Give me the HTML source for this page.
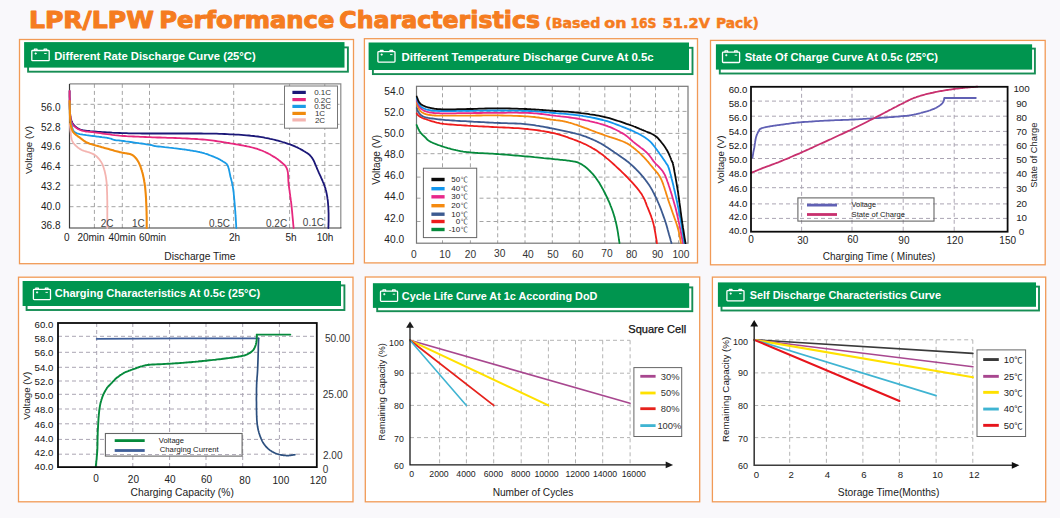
<!DOCTYPE html>
<html lang="en"><head><meta charset="utf-8"><title>LPR/LPW Performance Characteristics</title>
<style>html,body{margin:0;padding:0;background:#f9f8fb;}body{width:1060px;height:518px;overflow:hidden;}svg{display:block;}text{font-family:"Liberation Sans", "Noto Sans CJK SC", sans-serif;}</style>
</head><body>
<svg width="1060" height="518" viewBox="0 0 1060 518">
<rect x="0" y="0" width="1060" height="518" fill="#f9f8fb"/>
<g font-family='&quot;DejaVu Sans&quot;, &quot;Liberation Sans&quot;, sans-serif' font-weight="bold" fill="#f57c20">
<text x="28.9" y="27.9" font-size="23.2" textLength="125.0" lengthAdjust="spacingAndGlyphs" stroke="#f57c20" stroke-width="1.0" stroke-linejoin="round" style="font-family:'DejaVu Sans', 'Liberation Sans', sans-serif">LPR/LPW</text>
<text x="159.2" y="27.9" font-size="23.2" textLength="175.3" lengthAdjust="spacingAndGlyphs" stroke="#f57c20" stroke-width="1.0" stroke-linejoin="round" style="font-family:'DejaVu Sans', 'Liberation Sans', sans-serif">Performance</text>
<text x="339.3" y="27.9" font-size="23.2" textLength="200.8" lengthAdjust="spacingAndGlyphs" stroke="#f57c20" stroke-width="1.0" stroke-linejoin="round" style="font-family:'DejaVu Sans', 'Liberation Sans', sans-serif">Characteristics</text>
<text x="545.2" y="28.4" font-size="14" textLength="55.2" lengthAdjust="spacingAndGlyphs" stroke="#f57c20" stroke-width="0.5" stroke-linejoin="round" style="font-family:'DejaVu Sans', 'Liberation Sans', sans-serif">(Based</text>
<text x="604.3" y="28.4" font-size="14" textLength="22.2" lengthAdjust="spacingAndGlyphs" stroke="#f57c20" stroke-width="0.5" stroke-linejoin="round" style="font-family:'DejaVu Sans', 'Liberation Sans', sans-serif">on</text>
<text x="630.4" y="28.4" font-size="14" textLength="26.1" lengthAdjust="spacingAndGlyphs" stroke="#f57c20" stroke-width="0.5" stroke-linejoin="round" style="font-family:'DejaVu Sans', 'Liberation Sans', sans-serif">16S</text>
<text x="662.6" y="28.4" font-size="14" textLength="47.4" lengthAdjust="spacingAndGlyphs" stroke="#f57c20" stroke-width="0.5" stroke-linejoin="round" style="font-family:'DejaVu Sans', 'Liberation Sans', sans-serif">51.2V</text>
<text x="716.0" y="28.4" font-size="14" textLength="42.8" lengthAdjust="spacingAndGlyphs" stroke="#f57c20" stroke-width="0.5" stroke-linejoin="round" style="font-family:'DejaVu Sans', 'Liberation Sans', sans-serif">Pack)</text>
</g>
<rect x="19.5" y="39.5" width="334.0" height="224.2" fill="#ffffff" stroke="#f19a56" stroke-width="1.3" />
<rect x="364.4" y="38.7" width="333.1" height="224.2" fill="#ffffff" stroke="#f19a56" stroke-width="1.3" />
<rect x="710.5" y="40.4" width="334.7" height="224.4" fill="#ffffff" stroke="#f19a56" stroke-width="1.3" />
<rect x="18.5" y="277.2" width="334.5" height="224.6" fill="#ffffff" stroke="#f19a56" stroke-width="1.3" />
<rect x="365.3" y="277.0" width="334.4" height="224.8" fill="#ffffff" stroke="#f19a56" stroke-width="1.3" />
<rect x="712.4" y="277.1" width="333.3" height="224.7" fill="#ffffff" stroke="#f19a56" stroke-width="1.3" />
<rect x="28.1" y="47.4" width="319.8" height="24.3" fill="#ffffff" stroke="#168e54" stroke-width="1.9" />
<rect x="24.1" y="42.1" width="320.4" height="25.5" fill="#00954f" stroke="none" stroke-width="1" />
<g fill="none" stroke="#ffffff" stroke-width="1.3" stroke-linejoin="round">
<rect x="31.8" y="50.5" width="17.4" height="10.2" rx="0.8"/>
<path d="M34.4 50.5 v-1.3 h2.6 v1.3"/>
<path d="M44.1 50.5 v-1.3 h2.6 v1.3"/>
</g>
<g stroke="#ffffff" stroke-width="0.9">
<path d="M34.6 53.5 h2.2 M35.7 52.4 v2.2"/>
<path d="M44.2 53.5 h2.4"/>
</g>
<text x="54.2" y="59.6" font-size="10.4" font-weight="bold" fill="#ffffff" textLength="201.5" lengthAdjust="spacingAndGlyphs">Different Rate Discharge Curve (25°C)</text>
<rect x="372.9" y="47.8" width="319.6" height="26.3" fill="#ffffff" stroke="#168e54" stroke-width="1.9" />
<rect x="368.6" y="42.5" width="320.4" height="27.5" fill="#00954f" stroke="none" stroke-width="1" />
<g fill="none" stroke="#ffffff" stroke-width="1.3" stroke-linejoin="round">
<rect x="377.9" y="51.6" width="17.1" height="10.5" rx="0.8"/>
<path d="M380.4 51.6 v-1.3 h2.6 v1.3"/>
<path d="M390.0 51.6 v-1.3 h2.6 v1.3"/>
</g>
<g stroke="#ffffff" stroke-width="0.9">
<path d="M380.6 54.6 h2.2 M381.7 53.5 v2.2"/>
<path d="M390.1 54.6 h2.4"/>
</g>
<text x="401.5" y="60.6" font-size="10.4" font-weight="bold" fill="#ffffff" textLength="252.2" lengthAdjust="spacingAndGlyphs">Different Temperature Discharge Curve At 0.5c</text>
<rect x="719.8" y="48.6" width="315.1" height="24.9" fill="#ffffff" stroke="#168e54" stroke-width="1.9" />
<rect x="715.9" y="44.3" width="316.2" height="25.3" fill="#00954f" stroke="none" stroke-width="1" />
<g fill="none" stroke="#ffffff" stroke-width="1.3" stroke-linejoin="round">
<rect x="722.5" y="52.2" width="17.1" height="10.3" rx="0.8"/>
<path d="M725.0 52.2 v-1.3 h2.6 v1.3"/>
<path d="M734.6 52.2 v-1.3 h2.6 v1.3"/>
</g>
<g stroke="#ffffff" stroke-width="0.9">
<path d="M725.2 55.2 h2.2 M726.3 54.1 v2.2"/>
<path d="M734.7 55.2 h2.4"/>
</g>
<text x="744.7" y="61.0" font-size="10.4" font-weight="bold" fill="#ffffff" textLength="193.3" lengthAdjust="spacingAndGlyphs">State Of Charge Curve At 0.5c (25°C)</text>
<rect x="26.6" y="285.4" width="317.8" height="24.6" fill="#ffffff" stroke="#168e54" stroke-width="1.9" />
<rect x="22.6" y="281.0" width="318.4" height="25.0" fill="#00954f" stroke="none" stroke-width="1" />
<g fill="none" stroke="#ffffff" stroke-width="1.3" stroke-linejoin="round">
<rect x="33.4" y="289.4" width="17.1" height="10.2" rx="0.8"/>
<path d="M35.8 289.4 v-1.3 h2.6 v1.3"/>
<path d="M45.4 289.4 v-1.3 h2.6 v1.3"/>
</g>
<g stroke="#ffffff" stroke-width="0.9">
<path d="M36.0 292.4 h2.2 M37.1 291.3 v2.2"/>
<path d="M45.5 292.4 h2.4"/>
</g>
<text x="54.7" y="297.4" font-size="10.4" font-weight="bold" fill="#ffffff" textLength="205.5" lengthAdjust="spacingAndGlyphs">Charging Characteristics At 0.5c (25°C)</text>
<rect x="377.2" y="287.4" width="315.1" height="23.8" fill="#ffffff" stroke="#168e54" stroke-width="1.9" />
<rect x="372.9" y="283.2" width="316.3" height="24.7" fill="#00954f" stroke="none" stroke-width="1" />
<g fill="none" stroke="#ffffff" stroke-width="1.3" stroke-linejoin="round">
<rect x="380.5" y="291.2" width="17.1" height="10.1" rx="0.8"/>
<path d="M383.0 291.2 v-1.3 h2.6 v1.3"/>
<path d="M392.6 291.2 v-1.3 h2.6 v1.3"/>
</g>
<g stroke="#ffffff" stroke-width="0.9">
<path d="M383.2 294.2 h2.2 M384.3 293.1 v2.2"/>
<path d="M392.7 294.2 h2.4"/>
</g>
<text x="401.8" y="299.8" font-size="10.4" font-weight="bold" fill="#ffffff" textLength="195.6" lengthAdjust="spacingAndGlyphs">Cycle Life Curve At 1c According DoD</text>
<rect x="721.5" y="286.6" width="317.5" height="23.9" fill="#ffffff" stroke="#168e54" stroke-width="1.9" />
<rect x="717.9" y="282.4" width="318.1" height="24.4" fill="#00954f" stroke="none" stroke-width="1" />
<g fill="none" stroke="#ffffff" stroke-width="1.3" stroke-linejoin="round">
<rect x="726.9" y="290.6" width="17.1" height="10.3" rx="0.8"/>
<path d="M729.4 290.6 v-1.3 h2.6 v1.3"/>
<path d="M739.0 290.6 v-1.3 h2.6 v1.3"/>
</g>
<g stroke="#ffffff" stroke-width="0.9">
<path d="M729.6 293.6 h2.2 M730.7 292.5 v2.2"/>
<path d="M739.1 293.6 h2.4"/>
</g>
<text x="749.7" y="298.8" font-size="10.4" font-weight="bold" fill="#ffffff" textLength="191.3" lengthAdjust="spacingAndGlyphs">Self Discharge Characteristics Curve</text>
<line x1="94.4" y1="83.9" x2="94.4" y2="228.0" stroke="#a4a4a4" stroke-width="1" stroke-dasharray="4 3"/>
<line x1="122.3" y1="83.9" x2="122.3" y2="228.0" stroke="#a4a4a4" stroke-width="1" stroke-dasharray="4 3"/>
<line x1="149.5" y1="83.9" x2="149.5" y2="228.0" stroke="#a4a4a4" stroke-width="1" stroke-dasharray="4 3"/>
<line x1="233.7" y1="83.9" x2="233.7" y2="228.0" stroke="#a4a4a4" stroke-width="1" stroke-dasharray="4 3"/>
<line x1="289.6" y1="83.9" x2="289.6" y2="228.0" stroke="#a4a4a4" stroke-width="1" stroke-dasharray="4 3"/>
<line x1="324.8" y1="83.9" x2="324.8" y2="228.0" stroke="#a4a4a4" stroke-width="1" stroke-dasharray="4 3"/>
<line x1="69.5" y1="104.3" x2="340.8" y2="104.3" stroke="#a4a4a4" stroke-width="1" stroke-dasharray="4 3"/>
<line x1="69.5" y1="124.3" x2="340.8" y2="124.3" stroke="#a4a4a4" stroke-width="1" stroke-dasharray="4 3"/>
<line x1="69.5" y1="143.6" x2="340.8" y2="143.6" stroke="#a4a4a4" stroke-width="1" stroke-dasharray="4 3"/>
<line x1="69.5" y1="165.4" x2="340.8" y2="165.4" stroke="#a4a4a4" stroke-width="1" stroke-dasharray="4 3"/>
<line x1="69.5" y1="185.2" x2="340.8" y2="185.2" stroke="#a4a4a4" stroke-width="1" stroke-dasharray="4 3"/>
<line x1="69.5" y1="206.7" x2="340.8" y2="206.7" stroke="#a4a4a4" stroke-width="1" stroke-dasharray="4 3"/>
<path d="M69.5 83.9 H340.8 V228.0" fill="none" stroke="#8a8a8a" stroke-width="1.2"/>
<path d="M69.5 83.9 V228.0 H341.4" fill="none" stroke="#3a3a3a" stroke-width="1.2"/>
<g clip-path="url(#c1)">
<clipPath id="c1"><rect x="67.5" y="83.9" width="275.3" height="145.1"/></clipPath>
<path d="M69.6 91.0 L69.6 92.0 L69.6 93.4 L69.6 95.0 L69.6 96.9 L69.7 98.8 L69.7 100.9 L69.7 103.0 L69.7 105.0 L69.8 107.0 L69.8 108.9 L69.9 110.6 L70.0 112.0 L70.1 113.2 L70.2 114.4 L70.3 115.4 L70.5 116.3 L70.6 117.2 L70.8 118.0 L70.9 118.7 L71.1 119.4 L71.3 120.1 L71.5 120.8 L71.8 121.4 L72.0 122.0 L72.3 122.6 L72.5 123.1 L72.8 123.6 L73.1 124.1 L73.4 124.5 L73.8 124.9 L74.1 125.3 L74.4 125.7 L74.8 126.0 L75.2 126.3 L75.6 126.7 L76.0 127.0 L76.4 127.3 L76.8 127.6 L77.2 127.9 L77.6 128.2 L78.0 128.5 L78.5 128.7 L78.9 129.0 L79.5 129.2 L80.0 129.4 L80.6 129.6 L81.3 129.8 L82.0 130.0 L82.8 130.2 L83.5 130.3 L84.3 130.5 L85.1 130.6 L85.9 130.7 L86.8 130.8 L87.8 130.9 L88.9 131.0 L90.1 131.2 L91.4 131.3 L92.8 131.4 L94.4 131.5 L96.2 131.6 L98.1 131.8 L100.2 131.9 L102.5 132.1 L104.8 132.2 L107.2 132.4 L109.7 132.5 L112.2 132.7 L114.7 132.8 L117.2 132.9 L119.6 133.0 L122.0 133.1 L124.3 133.2 L126.5 133.2 L128.7 133.3 L130.9 133.3 L133.0 133.4 L135.2 133.4 L137.5 133.4 L139.8 133.4 L142.1 133.5 L144.6 133.5 L147.2 133.5 L150.0 133.5 L152.9 133.5 L156.1 133.5 L159.3 133.5 L162.7 133.5 L166.2 133.5 L169.8 133.5 L173.3 133.5 L176.8 133.5 L180.3 133.5 L183.7 133.5 L186.9 133.5 L190.0 133.5 L192.9 133.5 L195.8 133.5 L198.5 133.5 L201.2 133.5 L203.8 133.6 L206.4 133.6 L209.0 133.6 L211.5 133.6 L214.0 133.7 L216.6 133.7 L219.2 133.8 L221.8 133.9 L224.5 134.0 L227.2 134.1 L230.0 134.3 L232.8 134.4 L235.6 134.6 L238.4 134.7 L241.2 134.9 L243.9 135.1 L246.5 135.3 L249.0 135.5 L251.4 135.8 L253.7 136.0 L255.9 136.3 L257.9 136.5 L259.9 136.8 L261.7 137.1 L263.5 137.4 L265.2 137.8 L266.9 138.1 L268.5 138.4 L270.1 138.8 L271.7 139.1 L273.3 139.5 L274.9 139.9 L276.5 140.3 L278.0 140.7 L279.5 141.1 L281.0 141.5 L282.5 142.0 L283.9 142.4 L285.3 142.8 L286.7 143.3 L288.1 143.8 L289.4 144.2 L290.6 144.7 L291.9 145.2 L293.1 145.7 L294.3 146.2 L295.5 146.7 L296.6 147.2 L297.8 147.7 L298.8 148.3 L299.9 148.8 L300.9 149.4 L301.9 149.9 L302.8 150.4 L303.7 151.0 L304.6 151.5 L305.4 152.0 L306.2 152.5 L306.9 152.9 L307.5 153.4 L308.2 153.8 L308.8 154.2 L309.3 154.7 L309.9 155.2 L310.4 155.8 L311.0 156.4 L311.5 157.1 L312.1 157.9 L312.7 158.8 L313.2 159.8 L313.8 160.8 L314.3 161.9 L314.8 163.1 L315.3 164.3 L315.8 165.5 L316.3 166.7 L316.8 168.0 L317.4 169.3 L317.9 170.5 L318.4 171.7 L318.9 172.9 L319.5 174.1 L320.1 175.4 L320.7 176.7 L321.2 177.9 L321.8 179.2 L322.4 180.5 L322.9 181.8 L323.5 183.0 L323.9 184.2 L324.4 185.4 L324.8 186.6 L325.2 187.7 L325.5 188.8 L325.8 189.9 L326.1 190.9 L326.3 191.9 L326.5 192.9 L326.7 194.0 L326.9 195.0 L327.1 196.0 L327.3 197.1 L327.4 198.2 L327.6 199.3 L327.8 200.5 L327.9 201.7 L328.0 202.9 L328.1 204.1 L328.2 205.4 L328.3 206.7 L328.4 208.0 L328.4 209.2 L328.5 210.5 L328.5 211.8 L328.6 213.0 L328.6 214.2 L328.6 215.4 L328.6 216.7 L328.6 218.1 L328.6 219.4 L328.6 220.7 L328.6 222.0 L328.5 223.3 L328.5 224.5 L328.5 225.5 L328.4 226.5 L328.4 227.3 L328.4 228.0" fill="none" stroke="#1c1878" stroke-width="1.8" stroke-linejoin="round" stroke-linecap="round" />
<path d="M69.6 91.0 L69.6 91.9 L69.6 93.2 L69.6 94.6 L69.6 96.3 L69.7 98.0 L69.7 99.9 L69.7 101.8 L69.7 103.6 L69.8 105.4 L69.8 107.1 L69.8 108.7 L69.9 110.0 L70.0 111.2 L70.0 112.2 L70.1 113.2 L70.1 114.1 L70.2 115.0 L70.3 115.8 L70.4 116.6 L70.5 117.3 L70.6 118.0 L70.7 118.7 L70.8 119.3 L71.0 120.0 L71.2 120.6 L71.3 121.2 L71.5 121.8 L71.7 122.3 L71.9 122.9 L72.1 123.3 L72.3 123.8 L72.6 124.3 L72.9 124.7 L73.2 125.1 L73.6 125.6 L74.0 126.0 L74.5 126.4 L75.0 126.9 L75.5 127.3 L76.1 127.7 L76.8 128.2 L77.4 128.6 L78.1 129.0 L78.8 129.3 L79.6 129.7 L80.4 130.0 L81.2 130.3 L82.0 130.6 L82.8 130.8 L83.6 131.0 L84.4 131.2 L85.2 131.3 L86.1 131.5 L87.0 131.6 L87.9 131.7 L89.0 131.8 L90.1 131.9 L91.4 132.0 L92.8 132.2 L94.4 132.4 L96.2 132.6 L98.1 132.9 L100.2 133.2 L102.5 133.5 L104.8 133.8 L107.2 134.1 L109.7 134.4 L112.2 134.8 L114.7 135.1 L117.2 135.3 L119.6 135.6 L122.0 135.8 L124.3 136.0 L126.6 136.2 L128.9 136.3 L131.2 136.4 L133.5 136.5 L135.8 136.7 L138.2 136.7 L140.5 136.8 L142.8 136.9 L145.2 137.0 L147.6 137.1 L150.0 137.2 L152.4 137.3 L154.9 137.4 L157.4 137.5 L160.0 137.5 L162.5 137.6 L165.1 137.7 L167.6 137.8 L170.1 137.8 L172.7 137.9 L175.2 138.0 L177.6 138.1 L180.0 138.2 L182.4 138.3 L184.7 138.4 L187.0 138.5 L189.3 138.6 L191.5 138.8 L193.8 138.9 L196.0 139.0 L198.2 139.2 L200.4 139.3 L202.6 139.5 L204.8 139.7 L207.0 139.9 L209.2 140.1 L211.4 140.4 L213.6 140.7 L215.8 141.0 L217.9 141.3 L220.1 141.6 L222.3 142.0 L224.4 142.3 L226.5 142.7 L228.5 143.0 L230.5 143.4 L232.5 143.7 L234.4 144.0 L236.4 144.4 L238.2 144.7 L240.1 145.0 L242.0 145.3 L243.8 145.7 L245.5 146.0 L247.3 146.4 L248.9 146.7 L250.6 147.1 L252.2 147.5 L253.7 147.9 L255.2 148.3 L256.6 148.7 L257.9 149.2 L259.2 149.6 L260.5 150.1 L261.7 150.5 L262.9 151.0 L264.0 151.5 L265.2 152.0 L266.3 152.6 L267.5 153.1 L268.6 153.7 L269.8 154.3 L270.9 155.0 L272.1 155.7 L273.2 156.4 L274.4 157.1 L275.5 157.8 L276.6 158.6 L277.7 159.3 L278.7 160.1 L279.6 160.8 L280.5 161.5 L281.3 162.2 L282.0 162.8 L282.7 163.4 L283.4 164.0 L283.9 164.5 L284.5 165.0 L285.0 165.5 L285.4 166.0 L285.8 166.6 L286.2 167.3 L286.6 168.0 L286.9 168.7 L287.2 169.6 L287.5 170.6 L287.7 171.6 L287.9 172.6 L288.0 173.7 L288.1 174.9 L288.1 176.1 L288.2 177.4 L288.3 178.7 L288.3 180.1 L288.4 181.5 L288.5 182.9 L288.7 184.4 L288.9 185.9 L289.1 187.6 L289.3 189.2 L289.6 191.0 L289.8 192.8 L290.1 194.6 L290.3 196.4 L290.6 198.3 L290.8 200.2 L291.1 202.0 L291.3 203.9 L291.5 205.7 L291.7 207.6 L291.9 209.6 L292.1 211.7 L292.3 213.9 L292.5 216.0 L292.7 218.2 L292.9 220.2 L293.1 222.2 L293.2 224.0 L293.4 225.6 L293.5 226.9 L293.6 228.0" fill="none" stroke="#e6287e" stroke-width="1.8" stroke-linejoin="round" stroke-linecap="round" />
<path d="M69.7 103.0 L69.7 103.6 L69.7 104.5 L69.7 105.4 L69.7 106.5 L69.7 107.7 L69.8 108.9 L69.8 110.2 L69.8 111.5 L69.8 112.7 L69.9 113.9 L69.9 115.0 L70.0 116.0 L70.1 116.9 L70.1 117.7 L70.2 118.6 L70.3 119.3 L70.4 120.1 L70.5 120.8 L70.6 121.5 L70.7 122.2 L70.9 122.9 L71.1 123.6 L71.3 124.3 L71.5 125.0 L71.7 125.7 L71.9 126.4 L72.1 127.2 L72.3 127.9 L72.5 128.6 L72.7 129.3 L73.0 130.0 L73.4 130.6 L73.8 131.3 L74.4 131.9 L75.1 132.4 L76.0 132.9 L77.1 133.3 L78.3 133.7 L79.7 134.1 L81.3 134.4 L82.9 134.7 L84.6 134.9 L86.4 135.2 L88.1 135.4 L89.8 135.6 L91.5 135.8 L93.0 136.0 L94.4 136.2 L95.7 136.4 L97.0 136.6 L98.3 136.7 L99.5 136.9 L100.7 137.0 L101.9 137.2 L103.0 137.3 L104.1 137.4 L105.2 137.6 L106.2 137.7 L107.1 137.8 L108.0 138.0 L108.8 138.2 L109.5 138.3 L110.2 138.5 L110.8 138.7 L111.4 138.9 L111.9 139.1 L112.4 139.3 L112.9 139.5 L113.4 139.7 L113.9 139.8 L114.4 140.0 L115.0 140.1 L115.5 140.2 L115.9 140.3 L116.3 140.3 L116.6 140.3 L116.9 140.3 L117.2 140.3 L117.6 140.3 L118.1 140.4 L118.8 140.4 L119.6 140.5 L120.7 140.6 L122.0 140.8 L123.7 141.0 L125.7 141.3 L128.1 141.6 L130.6 142.0 L133.3 142.4 L136.1 142.8 L138.9 143.2 L141.6 143.5 L144.1 143.9 L146.4 144.3 L148.4 144.6 L150.0 144.8 L151.2 145.0 L152.0 145.2 L152.5 145.3 L152.8 145.4 L152.9 145.5 L153.0 145.5 L153.0 145.6 L153.1 145.7 L153.3 145.7 L153.7 145.8 L154.4 146.0 L155.4 146.1 L156.8 146.3 L158.5 146.5 L160.4 146.7 L162.5 146.9 L164.7 147.2 L167.0 147.4 L169.3 147.7 L171.5 147.9 L173.7 148.2 L175.8 148.4 L177.6 148.6 L179.2 148.8 L180.5 149.0 L181.7 149.1 L182.8 149.3 L183.7 149.4 L184.5 149.5 L185.3 149.6 L186.0 149.7 L186.7 149.8 L187.5 150.0 L188.2 150.1 L189.1 150.2 L190.0 150.4 L191.0 150.6 L192.0 150.7 L193.0 150.9 L194.1 151.1 L195.2 151.2 L196.2 151.4 L197.3 151.6 L198.4 151.8 L199.5 152.0 L200.6 152.3 L201.6 152.5 L202.7 152.8 L203.8 153.1 L204.9 153.5 L206.0 153.8 L207.2 154.2 L208.3 154.6 L209.4 155.1 L210.5 155.5 L211.6 155.9 L212.7 156.3 L213.7 156.7 L214.6 157.1 L215.5 157.5 L216.3 157.9 L217.1 158.2 L217.8 158.5 L218.5 158.9 L219.1 159.2 L219.8 159.5 L220.3 159.9 L220.9 160.2 L221.5 160.5 L222.0 160.8 L222.5 161.2 L223.0 161.5 L223.5 161.8 L224.0 162.1 L224.4 162.3 L224.8 162.6 L225.2 162.8 L225.6 163.1 L226.0 163.4 L226.3 163.7 L226.7 164.0 L227.0 164.5 L227.3 164.9 L227.6 165.5 L227.9 166.1 L228.2 166.8 L228.4 167.6 L228.6 168.4 L228.9 169.3 L229.1 170.2 L229.3 171.1 L229.5 172.1 L229.7 173.1 L229.9 174.0 L230.1 175.0 L230.3 176.0 L230.5 177.0 L230.8 177.9 L231.0 178.9 L231.3 179.8 L231.5 180.8 L231.8 181.8 L232.0 182.8 L232.2 183.9 L232.5 185.0 L232.7 186.2 L232.9 187.4 L233.1 188.7 L233.3 190.1 L233.5 191.5 L233.7 193.0 L233.8 194.6 L234.0 196.1 L234.1 197.8 L234.3 199.4 L234.4 201.1 L234.6 202.8 L234.7 204.5 L234.9 206.1 L235.0 207.8 L235.1 209.5 L235.3 211.3 L235.4 213.2 L235.5 215.2 L235.7 217.2 L235.8 219.1 L235.9 221.0 L236.0 222.7 L236.1 224.3 L236.2 225.8 L236.2 227.0 L236.3 228.0" fill="none" stroke="#1a9be6" stroke-width="1.8" stroke-linejoin="round" stroke-linecap="round" />
<path d="M69.8 124.0 L69.8 124.4 L69.9 124.9 L69.9 125.4 L70.0 126.1 L70.1 126.8 L70.1 127.5 L70.2 128.3 L70.3 129.0 L70.3 129.8 L70.4 130.6 L70.5 131.3 L70.6 132.0 L70.7 132.7 L70.8 133.4 L70.8 134.1 L70.9 134.8 L71.0 135.5 L71.1 136.2 L71.2 136.8 L71.3 137.5 L71.4 138.2 L71.5 138.8 L71.7 139.4 L71.9 140.0 L72.1 140.5 L72.3 141.1 L72.6 141.6 L72.9 142.1 L73.1 142.5 L73.4 143.0 L73.7 143.4 L74.1 143.8 L74.4 144.2 L74.8 144.7 L75.2 145.1 L75.6 145.5 L76.0 145.9 L76.5 146.3 L76.9 146.7 L77.4 147.2 L77.9 147.6 L78.5 148.0 L79.0 148.3 L79.6 148.7 L80.1 149.1 L80.7 149.4 L81.4 149.8 L82.0 150.1 L82.7 150.4 L83.4 150.7 L84.2 151.0 L85.0 151.2 L85.8 151.5 L86.7 151.7 L87.5 152.0 L88.3 152.2 L89.1 152.4 L89.8 152.7 L90.6 152.9 L91.2 153.2 L91.8 153.5 L92.3 153.7 L92.8 153.9 L93.3 154.1 L93.8 154.4 L94.2 154.6 L94.6 154.8 L95.0 155.1 L95.4 155.4 L95.8 155.7 L96.3 156.1 L96.7 156.5 L97.2 157.0 L97.6 157.5 L98.1 158.0 L98.6 158.5 L99.1 159.1 L99.6 159.7 L100.1 160.4 L100.5 161.0 L101.0 161.7 L101.4 162.4 L101.8 163.1 L102.2 163.9 L102.6 164.7 L102.9 165.5 L103.2 166.4 L103.5 167.3 L103.8 168.2 L104.1 169.2 L104.4 170.1 L104.6 171.1 L104.9 172.1 L105.1 173.0 L105.3 174.0 L105.5 174.9 L105.7 175.8 L105.8 176.6 L106.0 177.5 L106.1 178.3 L106.2 179.1 L106.3 179.9 L106.4 180.8 L106.5 181.7 L106.6 182.6 L106.7 183.6 L106.7 184.7 L106.8 185.9 L106.9 187.2 L106.9 188.5 L107.0 189.8 L107.0 191.3 L107.1 192.7 L107.1 194.2 L107.2 195.8 L107.2 197.4 L107.2 199.1 L107.3 200.7 L107.3 202.5 L107.3 204.2 L107.3 206.1 L107.3 208.1 L107.3 210.3 L107.3 212.6 L107.3 214.9 L107.3 217.2 L107.3 219.5 L107.3 221.6 L107.3 223.6 L107.3 225.3 L107.3 226.8 L107.3 228.0" fill="none" stroke="#f4b4b0" stroke-width="1.8" stroke-linejoin="round" stroke-linecap="round" />
<path d="M69.6 101.0 L69.6 102.0 L69.7 103.2 L69.7 104.7 L69.7 106.3 L69.8 108.1 L69.8 110.0 L69.9 111.9 L69.9 113.8 L70.0 115.6 L70.1 117.2 L70.1 118.7 L70.2 120.0 L70.3 121.1 L70.4 122.0 L70.4 122.8 L70.5 123.6 L70.6 124.3 L70.7 124.9 L70.8 125.4 L71.0 126.0 L71.1 126.5 L71.2 127.0 L71.3 127.5 L71.5 128.0 L71.7 128.5 L71.8 129.0 L72.0 129.5 L72.1 129.9 L72.3 130.3 L72.4 130.7 L72.6 131.1 L72.8 131.4 L73.1 131.8 L73.3 132.2 L73.7 132.6 L74.0 133.0 L74.4 133.4 L74.8 133.8 L75.3 134.3 L75.8 134.7 L76.3 135.1 L76.9 135.5 L77.5 136.0 L78.0 136.4 L78.6 136.8 L79.2 137.2 L79.8 137.6 L80.3 138.0 L80.8 138.4 L81.4 138.8 L81.9 139.2 L82.4 139.6 L82.9 140.0 L83.4 140.4 L84.0 140.8 L84.5 141.2 L85.1 141.5 L85.6 141.9 L86.2 142.2 L86.8 142.5 L87.4 142.8 L88.0 143.0 L88.6 143.3 L89.2 143.5 L89.8 143.7 L90.5 143.9 L91.1 144.1 L91.8 144.3 L92.5 144.5 L93.3 144.7 L94.1 144.9 L94.9 145.2 L95.8 145.5 L96.8 145.7 L97.8 146.0 L98.8 146.3 L99.9 146.6 L101.0 146.9 L102.1 147.3 L103.3 147.6 L104.4 147.9 L105.5 148.2 L106.6 148.5 L107.7 148.8 L108.8 149.1 L109.9 149.4 L111.0 149.7 L112.1 150.0 L113.2 150.3 L114.3 150.7 L115.4 151.0 L116.4 151.2 L117.5 151.5 L118.5 151.8 L119.5 152.1 L120.5 152.3 L121.5 152.5 L122.4 152.7 L123.3 152.9 L124.3 153.0 L125.2 153.2 L126.1 153.3 L126.9 153.5 L127.7 153.6 L128.5 153.8 L129.3 153.9 L130.0 154.1 L130.6 154.3 L131.2 154.5 L131.7 154.7 L132.2 154.9 L132.6 155.2 L133.0 155.4 L133.3 155.6 L133.6 155.9 L133.9 156.1 L134.2 156.4 L134.5 156.7 L134.9 157.1 L135.2 157.4 L135.5 157.8 L135.9 158.1 L136.2 158.5 L136.5 159.0 L136.8 159.4 L137.1 159.8 L137.4 160.3 L137.7 160.8 L138.0 161.3 L138.3 161.8 L138.6 162.3 L138.9 162.9 L139.2 163.5 L139.5 164.1 L139.7 164.7 L140.0 165.4 L140.3 166.0 L140.5 166.7 L140.8 167.4 L141.0 168.1 L141.3 168.9 L141.5 169.6 L141.8 170.4 L142.0 171.2 L142.2 172.0 L142.5 172.9 L142.7 173.7 L142.9 174.6 L143.1 175.5 L143.3 176.4 L143.5 177.4 L143.7 178.3 L143.9 179.3 L144.1 180.2 L144.2 181.2 L144.4 182.2 L144.6 183.2 L144.7 184.2 L144.8 185.1 L145.0 186.1 L145.1 187.1 L145.2 188.1 L145.3 189.2 L145.4 190.3 L145.5 191.4 L145.6 192.5 L145.7 193.7 L145.8 195.0 L145.9 196.3 L146.0 197.8 L146.1 199.3 L146.1 200.9 L146.2 202.5 L146.3 204.1 L146.3 205.7 L146.4 207.3 L146.5 208.9 L146.5 210.5 L146.6 212.0 L146.6 213.4 L146.6 214.8 L146.7 216.2 L146.7 217.7 L146.7 219.1 L146.7 220.5 L146.7 221.9 L146.7 223.1 L146.7 224.4 L146.7 225.5 L146.7 226.5 L146.7 227.3 L146.7 228.0" fill="none" stroke="#f08a0c" stroke-width="2.1" stroke-linejoin="round" stroke-linecap="round" />
</g>
<text x="60.5" y="110.7" font-size="10" text-anchor="end" fill="#222" font-weight="normal" >56.0</text>
<text x="60.5" y="130.9" font-size="10" text-anchor="end" fill="#222" font-weight="normal" >52.8</text>
<text x="60.5" y="149.9" font-size="10" text-anchor="end" fill="#222" font-weight="normal" >49.6</text>
<text x="60.5" y="169.8" font-size="10" text-anchor="end" fill="#222" font-weight="normal" >46.4</text>
<text x="60.5" y="190.1" font-size="10" text-anchor="end" fill="#222" font-weight="normal" >43.2</text>
<text x="60.5" y="210.0" font-size="10" text-anchor="end" fill="#222" font-weight="normal" >40.0</text>
<text x="60.5" y="229.4" font-size="10" text-anchor="end" fill="#222" font-weight="normal" >36.8</text>
<text transform="translate(28.0 150.1) rotate(-90)" x="0" y="3.5" font-size="9.8" text-anchor="middle" fill="#222" font-weight="normal" textLength="48.0" lengthAdjust="spacingAndGlyphs" >Voltage (V)</text>
<text x="66.8" y="240.8" font-size="10" text-anchor="middle" fill="#222" font-weight="normal" >0</text>
<text x="91.0" y="240.8" font-size="10" text-anchor="middle" fill="#222" font-weight="normal" >20min</text>
<text x="122.1" y="240.8" font-size="10" text-anchor="middle" fill="#222" font-weight="normal" >40min</text>
<text x="152.5" y="240.8" font-size="10" text-anchor="middle" fill="#222" font-weight="normal" >60min</text>
<text x="234.6" y="240.8" font-size="10" text-anchor="middle" fill="#222" font-weight="normal" >2h</text>
<text x="291.0" y="240.8" font-size="10" text-anchor="middle" fill="#222" font-weight="normal" >5h</text>
<text x="325.0" y="240.8" font-size="10" text-anchor="middle" fill="#222" font-weight="normal" >10h</text>
<text x="199.9" y="259.6" font-size="10" text-anchor="middle" fill="#222" font-weight="normal" textLength="71.2" lengthAdjust="spacingAndGlyphs" >Discharge Time</text>
<text x="107.2" y="227.0" font-size="10" text-anchor="middle" fill="#444" font-weight="normal" >2C</text>
<text x="138.4" y="227.0" font-size="10" text-anchor="middle" fill="#444" font-weight="normal" >1C</text>
<text x="219.5" y="227.0" font-size="10" text-anchor="middle" fill="#444" font-weight="normal" >0.5C</text>
<text x="276.6" y="227.0" font-size="10" text-anchor="middle" fill="#444" font-weight="normal" >0.2C</text>
<text x="313.4" y="226.2" font-size="10" text-anchor="middle" fill="#444" font-weight="normal" >0.1C</text>
<rect x="284.5" y="86.0" width="53.0" height="42.2" fill="#ffffff" stroke="#777" stroke-width="1" />
<rect x="292.4" y="90.8" width="13.4" height="3.2" fill="#1c1878" stroke="none" stroke-width="1" />
<text x="322.6" y="95.3" font-size="8.0" text-anchor="middle" fill="#333" font-weight="normal" >0.1C</text>
<rect x="292.4" y="98.0" width="13.4" height="3.2" fill="#e6287e" stroke="none" stroke-width="1" />
<text x="322.6" y="102.5" font-size="8.0" text-anchor="middle" fill="#333" font-weight="normal" >0.2C</text>
<rect x="292.4" y="104.8" width="13.4" height="3.2" fill="#1a9be6" stroke="none" stroke-width="1" />
<text x="322.6" y="109.3" font-size="8.0" text-anchor="middle" fill="#333" font-weight="normal" >0.5C</text>
<rect x="292.4" y="111.8" width="13.4" height="3.2" fill="#f08a0c" stroke="none" stroke-width="1" />
<text x="320.0" y="116.3" font-size="8.0" text-anchor="middle" fill="#333" font-weight="normal" >1C</text>
<rect x="292.4" y="118.3" width="13.4" height="3.2" fill="#f4b4b0" stroke="none" stroke-width="1" />
<text x="320.0" y="122.8" font-size="8.0" text-anchor="middle" fill="#333" font-weight="normal" >2C</text>
<line x1="442.5" y1="86.3" x2="442.5" y2="243.2" stroke="#a4a4a4" stroke-width="1" stroke-dasharray="4 3"/>
<line x1="470.4" y1="86.3" x2="470.4" y2="243.2" stroke="#a4a4a4" stroke-width="1" stroke-dasharray="4 3"/>
<line x1="497.7" y1="86.3" x2="497.7" y2="243.2" stroke="#a4a4a4" stroke-width="1" stroke-dasharray="4 3"/>
<line x1="525.0" y1="86.3" x2="525.0" y2="243.2" stroke="#a4a4a4" stroke-width="1" stroke-dasharray="4 3"/>
<line x1="552.3" y1="86.3" x2="552.3" y2="243.2" stroke="#a4a4a4" stroke-width="1" stroke-dasharray="4 3"/>
<line x1="579.3" y1="86.3" x2="579.3" y2="243.2" stroke="#a4a4a4" stroke-width="1" stroke-dasharray="4 3"/>
<line x1="604.8" y1="86.3" x2="604.8" y2="243.2" stroke="#a4a4a4" stroke-width="1" stroke-dasharray="4 3"/>
<line x1="630.4" y1="86.3" x2="630.4" y2="243.2" stroke="#a4a4a4" stroke-width="1" stroke-dasharray="4 3"/>
<line x1="655.5" y1="86.3" x2="655.5" y2="243.2" stroke="#a4a4a4" stroke-width="1" stroke-dasharray="4 3"/>
<line x1="678.6" y1="86.3" x2="678.6" y2="243.2" stroke="#a4a4a4" stroke-width="1" stroke-dasharray="4 3"/>
<line x1="416.5" y1="111.4" x2="688.0" y2="111.4" stroke="#a4a4a4" stroke-width="1" stroke-dasharray="4 3"/>
<line x1="416.5" y1="133.4" x2="688.0" y2="133.4" stroke="#a4a4a4" stroke-width="1" stroke-dasharray="4 3"/>
<line x1="416.5" y1="153.7" x2="688.0" y2="153.7" stroke="#a4a4a4" stroke-width="1" stroke-dasharray="4 3"/>
<line x1="416.5" y1="177.1" x2="688.0" y2="177.1" stroke="#a4a4a4" stroke-width="1" stroke-dasharray="4 3"/>
<line x1="416.5" y1="198.2" x2="688.0" y2="198.2" stroke="#a4a4a4" stroke-width="1" stroke-dasharray="4 3"/>
<line x1="416.5" y1="221.5" x2="688.0" y2="221.5" stroke="#a4a4a4" stroke-width="1" stroke-dasharray="4 3"/>
<rect x="416.5" y="86.3" width="271.5" height="156.9" fill="none" stroke="#777" stroke-width="1.2"/>
<clipPath id="c2"><rect x="414.5" y="86.3" width="275.5" height="157.9"/></clipPath>
<g clip-path="url(#c2)">
<path d="M416.6 125.0 L416.8 125.3 L417.0 125.8 L417.2 126.3 L417.4 126.9 L417.7 127.5 L418.0 128.1 L418.3 128.8 L418.6 129.5 L419.0 130.1 L419.3 130.8 L419.6 131.4 L420.0 131.9 L420.4 132.4 L420.7 132.9 L421.1 133.3 L421.5 133.8 L422.0 134.2 L422.4 134.7 L422.8 135.1 L423.3 135.5 L423.7 135.9 L424.1 136.3 L424.6 136.7 L425.0 137.1 L425.4 137.5 L425.8 137.9 L426.1 138.2 L426.4 138.6 L426.7 139.0 L427.1 139.3 L427.4 139.7 L427.8 140.0 L428.3 140.4 L428.8 140.8 L429.3 141.1 L430.0 141.5 L430.7 141.9 L431.6 142.3 L432.5 142.7 L433.4 143.1 L434.4 143.5 L435.4 143.9 L436.5 144.3 L437.6 144.8 L438.7 145.2 L439.8 145.5 L440.9 145.9 L442.0 146.3 L443.1 146.7 L444.2 147.0 L445.4 147.4 L446.5 147.7 L447.7 148.1 L448.9 148.4 L450.1 148.7 L451.3 149.1 L452.5 149.4 L453.6 149.7 L454.8 149.9 L456.0 150.2 L457.1 150.4 L458.2 150.7 L459.2 150.9 L460.2 151.1 L461.2 151.3 L462.2 151.4 L463.2 151.6 L464.4 151.8 L465.6 151.9 L466.9 152.1 L468.4 152.2 L470.0 152.4 L471.8 152.6 L473.7 152.7 L475.8 152.8 L478.0 153.0 L480.3 153.1 L482.6 153.2 L485.0 153.3 L487.4 153.4 L489.9 153.6 L492.3 153.7 L494.7 153.8 L497.0 154.0 L499.3 154.2 L501.6 154.3 L504.0 154.5 L506.3 154.7 L508.6 154.9 L511.0 155.1 L513.4 155.3 L515.7 155.5 L518.0 155.7 L520.4 155.9 L522.7 156.1 L525.0 156.3 L527.3 156.5 L529.7 156.7 L532.0 156.9 L534.4 157.2 L536.8 157.4 L539.1 157.6 L541.4 157.8 L543.7 158.1 L545.9 158.3 L548.0 158.5 L550.1 158.7 L552.0 158.9 L553.8 159.1 L555.6 159.3 L557.3 159.4 L559.0 159.6 L560.6 159.8 L562.1 159.9 L563.6 160.1 L565.0 160.2 L566.3 160.4 L567.6 160.6 L568.8 160.7 L570.0 160.9 L571.1 161.1 L572.0 161.2 L572.9 161.3 L573.7 161.5 L574.4 161.6 L575.1 161.7 L575.7 161.9 L576.4 162.0 L577.0 162.2 L577.6 162.4 L578.3 162.7 L579.0 163.0 L579.7 163.3 L580.5 163.7 L581.2 164.1 L581.9 164.5 L582.6 165.0 L583.4 165.5 L584.1 166.0 L584.8 166.5 L585.5 167.0 L586.2 167.6 L587.0 168.3 L587.7 168.9 L588.4 169.6 L589.2 170.3 L589.9 171.0 L590.7 171.8 L591.4 172.6 L592.2 173.4 L592.9 174.2 L593.7 175.1 L594.4 176.0 L595.1 176.9 L595.9 177.9 L596.6 178.9 L597.3 179.9 L598.0 181.0 L598.8 182.1 L599.5 183.3 L600.2 184.5 L600.9 185.7 L601.6 186.9 L602.3 188.2 L603.0 189.4 L603.7 190.7 L604.3 192.0 L605.0 193.3 L605.7 194.6 L606.3 196.0 L607.0 197.3 L607.6 198.7 L608.2 200.1 L608.9 201.5 L609.5 202.9 L610.1 204.4 L610.6 205.8 L611.2 207.2 L611.7 208.5 L612.2 209.9 L612.7 211.2 L613.1 212.5 L613.5 213.8 L613.9 215.1 L614.3 216.4 L614.7 217.6 L615.0 218.9 L615.3 220.2 L615.7 221.5 L616.0 222.8 L616.3 224.1 L616.6 225.5 L616.9 227.0 L617.2 228.5 L617.5 230.2 L617.8 231.9 L618.1 233.6 L618.3 235.3 L618.6 237.0 L618.8 238.5 L619.0 240.0 L619.2 241.2 L619.4 242.3 L619.5 243.2" fill="none" stroke="#068a3c" stroke-width="1.8" stroke-linejoin="round" stroke-linecap="round" />
<path d="M416.8 113.5 L416.9 113.6 L417.0 113.8 L417.1 113.9 L417.2 114.1 L417.4 114.3 L417.5 114.6 L417.7 114.8 L417.9 115.0 L418.1 115.3 L418.4 115.5 L418.7 115.8 L419.0 116.0 L419.3 116.2 L419.7 116.4 L420.0 116.7 L420.3 116.9 L420.7 117.1 L421.1 117.3 L421.5 117.5 L422.0 117.8 L422.6 118.0 L423.3 118.3 L424.1 118.6 L425.0 118.9 L426.0 119.2 L427.1 119.6 L428.2 120.0 L429.4 120.4 L430.7 120.9 L432.1 121.3 L433.6 121.7 L435.1 122.2 L436.7 122.6 L438.4 122.9 L440.2 123.3 L442.0 123.6 L444.0 123.9 L446.0 124.1 L448.2 124.3 L450.6 124.5 L452.9 124.7 L455.4 124.9 L457.8 125.1 L460.3 125.2 L462.8 125.4 L465.3 125.5 L467.7 125.7 L470.0 125.8 L472.3 125.9 L474.5 126.1 L476.8 126.2 L479.0 126.3 L481.3 126.4 L483.5 126.5 L485.7 126.6 L488.0 126.7 L490.2 126.9 L492.5 127.0 L494.7 127.1 L497.0 127.2 L499.3 127.3 L501.6 127.4 L504.0 127.5 L506.3 127.6 L508.6 127.7 L511.0 127.8 L513.4 128.0 L515.7 128.1 L518.0 128.2 L520.4 128.4 L522.7 128.6 L525.0 128.8 L527.3 129.0 L529.6 129.3 L532.0 129.6 L534.3 129.9 L536.7 130.2 L539.0 130.5 L541.3 130.9 L543.6 131.2 L545.8 131.6 L547.9 132.0 L550.0 132.4 L552.0 132.8 L553.9 133.2 L555.8 133.7 L557.5 134.1 L559.3 134.6 L560.9 135.1 L562.6 135.6 L564.2 136.1 L565.7 136.7 L567.3 137.2 L568.9 137.8 L570.4 138.3 L572.0 138.9 L573.6 139.5 L575.2 140.1 L576.7 140.7 L578.3 141.3 L579.8 141.9 L581.3 142.5 L582.8 143.2 L584.3 143.9 L585.8 144.5 L587.2 145.2 L588.6 146.0 L590.0 146.7 L591.3 147.4 L592.6 148.2 L593.8 148.9 L595.0 149.6 L596.2 150.3 L597.3 151.1 L598.5 151.9 L599.7 152.7 L600.9 153.6 L602.2 154.6 L603.6 155.6 L605.0 156.8 L606.5 158.1 L608.2 159.4 L609.9 160.9 L611.6 162.4 L613.4 164.0 L615.2 165.7 L617.0 167.3 L618.8 169.0 L620.6 170.7 L622.3 172.3 L623.9 173.9 L625.5 175.5 L627.0 177.0 L628.5 178.6 L629.9 180.1 L631.4 181.6 L632.8 183.2 L634.1 184.7 L635.4 186.2 L636.7 187.7 L637.9 189.1 L639.0 190.5 L640.0 191.9 L641.0 193.3 L641.9 194.6 L642.6 195.9 L643.3 197.1 L643.9 198.3 L644.5 199.5 L645.0 200.6 L645.4 201.8 L645.9 202.9 L646.3 204.1 L646.7 205.3 L647.2 206.5 L647.7 207.7 L648.2 208.9 L648.7 210.2 L649.2 211.4 L649.7 212.7 L650.2 213.9 L650.7 215.2 L651.2 216.4 L651.6 217.7 L652.1 219.1 L652.5 220.4 L652.9 221.8 L653.3 223.3 L653.7 224.9 L654.1 226.6 L654.4 228.4 L654.8 230.4 L655.2 232.3 L655.5 234.2 L655.8 236.1 L656.1 237.9 L656.4 239.5 L656.6 241.0 L656.8 242.2 L657.0 243.2" fill="none" stroke="#ee1c1c" stroke-width="1.8" stroke-linejoin="round" stroke-linecap="round" />
<path d="M416.8 108.0 L416.9 108.2 L417.0 108.6 L417.1 108.9 L417.2 109.3 L417.4 109.8 L417.5 110.2 L417.7 110.7 L417.9 111.2 L418.1 111.7 L418.4 112.2 L418.7 112.6 L419.0 113.0 L419.3 113.4 L419.7 113.8 L420.0 114.1 L420.3 114.5 L420.7 114.8 L421.1 115.2 L421.5 115.5 L422.0 115.9 L422.6 116.2 L423.3 116.5 L424.1 116.8 L425.0 117.1 L426.0 117.4 L427.1 117.6 L428.2 117.9 L429.4 118.1 L430.7 118.3 L432.1 118.5 L433.6 118.7 L435.1 118.9 L436.7 119.1 L438.4 119.3 L440.2 119.5 L442.0 119.7 L444.0 119.9 L446.0 120.1 L448.2 120.2 L450.6 120.4 L452.9 120.5 L455.4 120.7 L457.8 120.8 L460.3 121.0 L462.8 121.1 L465.3 121.2 L467.7 121.4 L470.0 121.5 L472.3 121.6 L474.5 121.8 L476.8 121.9 L479.0 122.0 L481.3 122.1 L483.5 122.2 L485.7 122.4 L488.0 122.5 L490.2 122.6 L492.5 122.7 L494.7 122.8 L497.0 122.9 L499.3 123.0 L501.6 123.1 L504.0 123.1 L506.3 123.2 L508.6 123.3 L511.0 123.3 L513.4 123.4 L515.7 123.5 L518.0 123.6 L520.4 123.7 L522.7 123.9 L525.0 124.1 L527.3 124.3 L529.6 124.6 L531.8 124.9 L534.1 125.2 L536.3 125.6 L538.6 125.9 L540.8 126.3 L543.0 126.7 L545.3 127.1 L547.5 127.5 L549.8 128.0 L552.0 128.4 L554.3 128.8 L556.6 129.3 L559.0 129.8 L561.3 130.3 L563.7 130.8 L566.1 131.3 L568.4 131.8 L570.7 132.3 L572.9 132.9 L575.0 133.4 L577.1 134.0 L579.0 134.5 L580.8 135.0 L582.6 135.6 L584.2 136.2 L585.9 136.7 L587.4 137.3 L588.9 137.9 L590.3 138.5 L591.7 139.1 L593.1 139.7 L594.4 140.3 L595.7 140.9 L597.0 141.5 L598.2 142.1 L599.4 142.7 L600.4 143.2 L601.4 143.8 L602.4 144.4 L603.4 144.9 L604.3 145.5 L605.3 146.2 L606.4 146.9 L607.5 147.6 L608.7 148.4 L610.0 149.3 L611.4 150.3 L613.0 151.3 L614.6 152.4 L616.3 153.5 L618.1 154.7 L619.8 155.9 L621.6 157.2 L623.4 158.4 L625.2 159.7 L626.8 161.0 L628.5 162.3 L630.0 163.6 L631.5 164.9 L632.9 166.2 L634.3 167.5 L635.7 168.9 L637.1 170.3 L638.4 171.7 L639.7 173.0 L640.9 174.4 L642.1 175.8 L643.3 177.2 L644.4 178.6 L645.5 180.0 L646.5 181.4 L647.5 182.7 L648.4 184.0 L649.3 185.3 L650.1 186.6 L650.9 187.9 L651.7 189.3 L652.5 190.6 L653.2 192.1 L654.0 193.5 L654.7 195.0 L655.5 196.6 L656.3 198.2 L657.1 200.0 L657.8 201.7 L658.6 203.5 L659.4 205.3 L660.1 207.2 L660.9 209.1 L661.6 211.0 L662.3 213.0 L663.0 214.9 L663.7 216.9 L664.4 218.8 L665.1 220.8 L665.8 223.0 L666.5 225.3 L667.2 227.7 L667.8 230.0 L668.5 232.4 L669.1 234.7 L669.7 236.8 L670.3 238.8 L670.7 240.5 L671.2 242.0 L671.5 243.2" fill="none" stroke="#3c5a90" stroke-width="1.8" stroke-linejoin="round" stroke-linecap="round" />
<path d="M416.8 103.0 L416.9 103.3 L417.0 103.7 L417.2 104.1 L417.3 104.6 L417.5 105.2 L417.7 105.8 L417.8 106.3 L418.1 106.9 L418.3 107.5 L418.5 108.0 L418.7 108.6 L419.0 109.0 L419.3 109.4 L419.5 109.8 L419.8 110.2 L420.1 110.6 L420.4 110.9 L420.7 111.2 L421.0 111.6 L421.4 111.9 L421.7 112.2 L422.1 112.5 L422.6 112.7 L423.0 113.0 L423.5 113.2 L423.9 113.5 L424.4 113.7 L424.9 113.9 L425.5 114.0 L426.0 114.2 L426.6 114.4 L427.2 114.5 L427.8 114.6 L428.5 114.8 L429.2 114.9 L430.0 115.0 L430.8 115.1 L431.5 115.2 L432.3 115.3 L433.0 115.4 L433.8 115.4 L434.7 115.5 L435.6 115.5 L436.6 115.6 L437.8 115.6 L439.0 115.6 L440.4 115.7 L442.0 115.7 L443.8 115.7 L445.8 115.7 L447.9 115.7 L450.2 115.7 L452.6 115.7 L455.1 115.7 L457.6 115.7 L460.1 115.7 L462.7 115.7 L465.2 115.6 L467.7 115.6 L470.0 115.6 L472.3 115.6 L474.5 115.6 L476.7 115.5 L478.9 115.5 L481.0 115.5 L483.2 115.4 L485.4 115.4 L487.6 115.4 L489.9 115.4 L492.2 115.4 L494.5 115.4 L497.0 115.4 L499.6 115.4 L502.3 115.5 L505.1 115.6 L508.0 115.6 L510.9 115.7 L513.8 115.8 L516.7 115.9 L519.6 116.0 L522.4 116.1 L525.1 116.3 L527.6 116.4 L530.0 116.6 L532.2 116.8 L534.4 117.0 L536.5 117.3 L538.5 117.5 L540.4 117.8 L542.2 118.1 L544.0 118.4 L545.7 118.7 L547.4 119.0 L549.0 119.2 L550.5 119.5 L552.0 119.7 L553.4 119.9 L554.7 120.0 L555.9 120.2 L557.0 120.3 L558.0 120.4 L559.0 120.5 L560.0 120.6 L560.9 120.8 L561.9 120.9 L562.9 121.1 L563.9 121.3 L565.0 121.5 L566.1 121.8 L567.1 122.0 L568.1 122.3 L569.1 122.6 L570.2 122.8 L571.2 123.2 L572.3 123.5 L573.4 123.9 L574.6 124.3 L576.0 124.7 L577.4 125.2 L579.0 125.8 L580.8 126.4 L582.7 127.1 L584.8 127.9 L587.1 128.7 L589.4 129.6 L591.8 130.5 L594.1 131.4 L596.5 132.3 L598.8 133.1 L601.0 133.9 L603.1 134.7 L605.0 135.4 L606.8 136.0 L608.6 136.6 L610.3 137.2 L611.9 137.7 L613.5 138.2 L615.1 138.7 L616.5 139.2 L618.0 139.7 L619.3 140.1 L620.6 140.6 L621.8 141.0 L623.0 141.5 L624.1 142.0 L625.0 142.4 L625.8 142.8 L626.6 143.1 L627.3 143.5 L627.9 143.9 L628.6 144.3 L629.2 144.7 L629.8 145.1 L630.5 145.6 L631.2 146.1 L632.0 146.7 L632.9 147.3 L633.7 148.0 L634.7 148.8 L635.6 149.5 L636.5 150.3 L637.5 151.2 L638.5 152.0 L639.4 152.9 L640.3 153.7 L641.3 154.6 L642.1 155.5 L643.0 156.3 L643.8 157.1 L644.6 158.0 L645.4 158.8 L646.1 159.6 L646.9 160.5 L647.6 161.3 L648.4 162.2 L649.1 163.1 L649.8 164.0 L650.5 164.9 L651.3 165.8 L652.0 166.7 L652.8 167.6 L653.5 168.5 L654.3 169.4 L655.0 170.2 L655.8 171.1 L656.6 172.0 L657.3 172.9 L658.1 173.9 L658.8 175.0 L659.6 176.2 L660.3 177.5 L661.0 178.9 L661.7 180.4 L662.4 182.1 L663.1 183.9 L663.7 185.8 L664.4 187.7 L665.0 189.7 L665.7 191.8 L666.3 193.9 L667.0 196.0 L667.6 198.1 L668.3 200.1 L669.0 202.2 L669.7 204.3 L670.5 206.4 L671.3 208.7 L672.0 210.9 L672.8 213.2 L673.6 215.4 L674.4 217.7 L675.2 219.9 L675.9 222.0 L676.6 224.0 L677.2 225.9 L677.7 227.7 L678.2 229.4 L678.6 231.0 L679.0 232.6 L679.3 234.2 L679.6 235.7 L679.9 237.0 L680.1 238.3 L680.3 239.6 L680.5 240.6 L680.7 241.6 L680.9 242.5 L681.0 243.2" fill="none" stroke="#f58a10" stroke-width="1.8" stroke-linejoin="round" stroke-linecap="round" />
<path d="M416.8 100.0 L416.9 100.3 L417.0 100.7 L417.2 101.1 L417.3 101.6 L417.5 102.2 L417.7 102.8 L417.8 103.3 L418.1 103.9 L418.3 104.5 L418.5 105.0 L418.7 105.6 L419.0 106.0 L419.3 106.4 L419.5 106.8 L419.8 107.2 L420.1 107.5 L420.4 107.9 L420.7 108.2 L421.0 108.5 L421.4 108.9 L421.7 109.2 L422.1 109.4 L422.6 109.7 L423.0 110.0 L423.5 110.3 L423.9 110.5 L424.4 110.8 L424.9 111.0 L425.5 111.2 L426.0 111.5 L426.6 111.7 L427.2 111.8 L427.8 112.0 L428.5 112.2 L429.2 112.4 L430.0 112.5 L430.8 112.6 L431.5 112.7 L432.3 112.8 L433.0 112.9 L433.8 113.0 L434.7 113.1 L435.6 113.1 L436.6 113.2 L437.8 113.2 L439.0 113.2 L440.4 113.3 L442.0 113.3 L443.8 113.3 L445.8 113.3 L447.9 113.3 L450.2 113.3 L452.6 113.3 L455.1 113.3 L457.6 113.2 L460.1 113.2 L462.7 113.2 L465.2 113.2 L467.7 113.1 L470.0 113.1 L472.3 113.1 L474.5 113.0 L476.7 113.0 L478.9 113.0 L481.0 113.0 L483.2 112.9 L485.4 112.9 L487.6 112.9 L489.9 112.8 L492.2 112.8 L494.5 112.8 L497.0 112.8 L499.6 112.8 L502.3 112.8 L505.1 112.8 L508.0 112.7 L510.9 112.7 L513.8 112.7 L516.7 112.7 L519.6 112.8 L522.4 112.8 L525.1 112.8 L527.6 112.9 L530.0 113.0 L532.2 113.1 L534.2 113.3 L536.2 113.4 L538.0 113.6 L539.7 113.8 L541.4 114.0 L543.0 114.2 L544.7 114.4 L546.4 114.7 L548.2 114.9 L550.0 115.2 L552.0 115.4 L554.1 115.6 L556.2 115.9 L558.4 116.1 L560.7 116.4 L562.9 116.6 L565.2 116.9 L567.6 117.2 L569.9 117.5 L572.2 117.8 L574.5 118.1 L576.8 118.5 L579.0 118.9 L581.2 119.3 L583.5 119.8 L585.8 120.3 L588.0 120.7 L590.3 121.3 L592.6 121.8 L594.8 122.4 L597.0 122.9 L599.1 123.5 L601.1 124.1 L603.1 124.7 L605.0 125.3 L606.8 125.9 L608.5 126.6 L610.2 127.2 L611.9 127.9 L613.4 128.6 L614.9 129.3 L616.4 130.0 L617.8 130.7 L619.2 131.4 L620.5 132.2 L621.8 132.9 L623.0 133.6 L624.2 134.3 L625.2 135.0 L626.2 135.7 L627.1 136.4 L628.0 137.2 L628.8 137.9 L629.6 138.6 L630.4 139.3 L631.3 140.1 L632.1 140.8 L633.0 141.6 L634.0 142.4 L635.0 143.2 L636.1 144.1 L637.2 144.9 L638.4 145.8 L639.6 146.7 L640.7 147.6 L641.9 148.5 L643.0 149.3 L644.1 150.2 L645.1 151.1 L646.1 152.0 L647.0 152.8 L647.8 153.6 L648.5 154.4 L649.2 155.2 L649.8 156.0 L650.4 156.8 L651.0 157.5 L651.5 158.3 L652.0 159.1 L652.6 159.8 L653.1 160.6 L653.7 161.4 L654.4 162.2 L655.1 163.0 L655.8 163.8 L656.6 164.6 L657.4 165.4 L658.2 166.2 L659.0 167.0 L659.8 167.8 L660.5 168.6 L661.3 169.5 L662.0 170.3 L662.7 171.2 L663.3 172.2 L663.9 173.2 L664.4 174.1 L664.9 175.0 L665.3 175.9 L665.7 176.8 L666.1 177.8 L666.5 178.8 L666.9 180.0 L667.3 181.2 L667.8 182.5 L668.3 183.9 L668.8 185.5 L669.4 187.2 L670.0 189.1 L670.6 191.1 L671.3 193.2 L672.0 195.5 L672.6 197.7 L673.3 200.1 L674.0 202.5 L674.7 204.9 L675.4 207.3 L676.0 209.8 L676.6 212.2 L677.2 214.7 L677.8 217.5 L678.4 220.4 L679.1 223.4 L679.7 226.4 L680.3 229.4 L680.9 232.3 L681.4 235.0 L681.9 237.5 L682.3 239.8 L682.7 241.7 L683.0 243.2" fill="none" stroke="#e8288a" stroke-width="1.8" stroke-linejoin="round" stroke-linecap="round" />
<path d="M416.8 98.0 L416.9 98.3 L417.0 98.7 L417.2 99.1 L417.3 99.6 L417.5 100.2 L417.7 100.8 L417.8 101.3 L418.1 101.9 L418.3 102.5 L418.5 103.0 L418.7 103.6 L419.0 104.0 L419.3 104.4 L419.5 104.8 L419.8 105.2 L420.1 105.5 L420.4 105.9 L420.7 106.2 L421.0 106.6 L421.4 106.9 L421.7 107.2 L422.1 107.5 L422.6 107.7 L423.0 108.0 L423.5 108.3 L423.9 108.5 L424.4 108.7 L424.9 108.9 L425.5 109.1 L426.0 109.3 L426.6 109.5 L427.2 109.6 L427.8 109.8 L428.5 109.9 L429.2 110.1 L430.0 110.2 L430.8 110.3 L431.5 110.4 L432.3 110.5 L433.0 110.6 L433.8 110.7 L434.7 110.8 L435.6 110.8 L436.6 110.9 L437.8 110.9 L439.0 110.9 L440.4 111.0 L442.0 111.0 L443.8 111.0 L445.8 111.0 L447.9 111.0 L450.2 111.0 L452.6 111.0 L455.1 111.0 L457.6 110.9 L460.1 110.9 L462.7 110.9 L465.2 110.9 L467.7 110.8 L470.0 110.8 L472.3 110.8 L474.5 110.7 L476.7 110.7 L478.9 110.7 L481.0 110.6 L483.2 110.6 L485.4 110.6 L487.6 110.5 L489.9 110.5 L492.2 110.5 L494.5 110.5 L497.0 110.5 L499.6 110.5 L502.3 110.5 L505.1 110.5 L508.0 110.6 L510.9 110.6 L513.8 110.6 L516.7 110.7 L519.6 110.7 L522.4 110.8 L525.1 110.8 L527.6 110.9 L530.0 111.0 L532.2 111.1 L534.2 111.2 L536.2 111.3 L538.0 111.5 L539.7 111.6 L541.4 111.8 L543.0 111.9 L544.7 112.1 L546.4 112.3 L548.2 112.4 L550.0 112.6 L552.0 112.8 L554.1 113.0 L556.2 113.2 L558.4 113.3 L560.7 113.5 L562.9 113.7 L565.2 113.9 L567.6 114.1 L569.9 114.3 L572.2 114.5 L574.5 114.8 L576.8 115.1 L579.0 115.4 L581.2 115.7 L583.4 116.1 L585.6 116.4 L587.8 116.8 L590.0 117.2 L592.1 117.6 L594.3 118.0 L596.4 118.5 L598.6 119.0 L600.7 119.5 L602.9 120.0 L605.0 120.6 L607.2 121.2 L609.4 121.9 L611.6 122.7 L613.9 123.5 L616.1 124.3 L618.3 125.1 L620.5 126.0 L622.6 126.8 L624.6 127.6 L626.5 128.4 L628.3 129.1 L630.0 129.8 L631.5 130.4 L632.9 131.0 L634.2 131.6 L635.4 132.2 L636.5 132.7 L637.6 133.2 L638.5 133.8 L639.5 134.3 L640.4 134.8 L641.3 135.3 L642.1 135.8 L643.0 136.3 L643.8 136.8 L644.6 137.3 L645.4 137.8 L646.0 138.2 L646.7 138.7 L647.3 139.1 L647.9 139.6 L648.5 140.1 L649.1 140.6 L649.7 141.1 L650.3 141.7 L651.0 142.4 L651.7 143.1 L652.3 143.9 L653.0 144.7 L653.7 145.6 L654.4 146.4 L655.1 147.3 L655.7 148.3 L656.4 149.2 L657.1 150.1 L657.7 151.0 L658.4 151.9 L659.0 152.8 L659.6 153.7 L660.3 154.6 L660.9 155.5 L661.6 156.4 L662.2 157.3 L662.8 158.2 L663.4 159.1 L664.0 159.9 L664.6 160.8 L665.1 161.6 L665.6 162.3 L666.0 163.0 L666.4 163.6 L666.7 164.1 L667.0 164.4 L667.2 164.7 L667.4 165.0 L667.6 165.3 L667.8 165.6 L668.0 166.0 L668.2 166.5 L668.4 167.1 L668.7 167.9 L669.0 168.9 L669.4 170.1 L669.8 171.5 L670.2 173.0 L670.6 174.6 L671.1 176.3 L671.5 178.2 L672.0 180.0 L672.5 182.0 L673.0 184.0 L673.5 186.0 L673.9 188.0 L674.4 190.0 L674.9 192.0 L675.3 194.1 L675.8 196.3 L676.3 198.5 L676.8 200.7 L677.3 203.0 L677.7 205.2 L678.2 207.5 L678.7 209.8 L679.1 212.1 L679.6 214.4 L680.0 216.6 L680.4 218.9 L680.9 221.3 L681.3 223.9 L681.7 226.5 L682.1 229.0 L682.5 231.6 L682.9 234.0 L683.3 236.3 L683.6 238.4 L683.9 240.3 L684.2 241.9 L684.4 243.2" fill="none" stroke="#1296ee" stroke-width="1.8" stroke-linejoin="round" stroke-linecap="round" />
<path d="M416.8 96.5 L416.9 96.8 L417.0 97.1 L417.2 97.5 L417.3 98.0 L417.5 98.5 L417.7 99.0 L417.8 99.6 L418.1 100.1 L418.3 100.6 L418.5 101.1 L418.7 101.6 L419.0 102.0 L419.3 102.4 L419.5 102.7 L419.8 103.0 L420.1 103.4 L420.4 103.7 L420.7 103.9 L421.0 104.2 L421.4 104.5 L421.7 104.7 L422.1 105.0 L422.5 105.3 L423.0 105.5 L423.5 105.7 L424.0 106.0 L424.5 106.2 L425.0 106.4 L425.5 106.6 L426.1 106.8 L426.7 107.0 L427.3 107.2 L428.0 107.4 L428.7 107.6 L429.4 107.7 L430.2 107.9 L431.0 108.1 L431.7 108.2 L432.4 108.4 L433.2 108.5 L434.0 108.6 L434.8 108.8 L435.7 108.9 L436.7 109.0 L437.8 109.1 L439.0 109.2 L440.4 109.2 L442.0 109.3 L443.8 109.3 L445.7 109.4 L447.9 109.4 L450.2 109.3 L452.6 109.3 L455.1 109.3 L457.6 109.2 L460.1 109.2 L462.7 109.1 L465.2 109.1 L467.7 109.0 L470.0 109.0 L472.3 109.0 L474.5 108.9 L476.8 108.8 L479.0 108.7 L481.3 108.7 L483.5 108.6 L485.7 108.5 L488.0 108.4 L490.2 108.4 L492.5 108.3 L494.7 108.3 L497.0 108.3 L499.4 108.3 L501.8 108.3 L504.4 108.4 L506.9 108.4 L509.5 108.5 L512.1 108.6 L514.6 108.7 L517.0 108.7 L519.2 108.8 L521.4 108.9 L523.3 108.9 L525.0 109.0 L526.4 109.0 L527.6 109.1 L528.6 109.1 L529.4 109.2 L530.1 109.2 L530.7 109.2 L531.2 109.3 L531.8 109.3 L532.4 109.3 L533.1 109.4 L534.0 109.4 L535.0 109.5 L536.1 109.6 L537.3 109.6 L538.5 109.7 L539.8 109.8 L541.1 109.9 L542.4 110.0 L543.9 110.1 L545.3 110.2 L546.9 110.3 L548.5 110.4 L550.2 110.6 L552.0 110.7 L553.9 110.8 L555.9 111.0 L558.1 111.1 L560.3 111.3 L562.6 111.4 L564.9 111.6 L567.3 111.7 L569.7 111.9 L572.1 112.1 L574.4 112.3 L576.8 112.5 L579.0 112.8 L581.2 113.1 L583.4 113.3 L585.6 113.6 L587.8 113.9 L590.0 114.3 L592.1 114.6 L594.3 114.9 L596.4 115.3 L598.6 115.7 L600.7 116.1 L602.9 116.6 L605.0 117.1 L607.2 117.6 L609.4 118.2 L611.6 118.9 L613.9 119.6 L616.1 120.3 L618.3 121.0 L620.5 121.7 L622.6 122.4 L624.6 123.1 L626.5 123.8 L628.3 124.4 L630.0 125.0 L631.5 125.5 L632.9 126.0 L634.1 126.5 L635.3 126.9 L636.3 127.4 L637.3 127.8 L638.3 128.2 L639.2 128.6 L640.1 129.0 L641.1 129.4 L642.0 129.8 L643.0 130.2 L644.0 130.6 L645.1 131.0 L646.1 131.5 L647.1 131.9 L648.2 132.3 L649.2 132.7 L650.2 133.1 L651.1 133.5 L652.1 134.0 L653.0 134.4 L653.8 134.9 L654.6 135.4 L655.3 135.9 L656.0 136.4 L656.7 137.0 L657.3 137.5 L657.9 138.1 L658.4 138.7 L658.9 139.3 L659.4 139.9 L660.0 140.5 L660.5 141.1 L661.0 141.8 L661.5 142.4 L662.0 143.1 L662.6 143.7 L663.1 144.4 L663.6 145.1 L664.1 145.8 L664.6 146.5 L665.1 147.2 L665.6 147.9 L666.0 148.7 L666.5 149.4 L667.0 150.2 L667.4 151.0 L667.8 151.8 L668.3 152.7 L668.7 153.6 L669.2 154.6 L669.6 155.6 L670.0 156.5 L670.4 157.5 L670.8 158.4 L671.1 159.3 L671.4 160.1 L671.7 160.8 L672.0 161.5 L672.2 162.0 L672.4 162.3 L672.5 162.5 L672.6 162.6 L672.6 162.6 L672.7 162.6 L672.7 162.7 L672.8 162.9 L672.8 163.2 L672.9 163.7 L673.1 164.5 L673.3 165.5 L673.6 166.8 L673.9 168.3 L674.2 170.0 L674.5 171.9 L674.9 173.9 L675.3 176.1 L675.7 178.3 L676.1 180.6 L676.5 182.9 L676.9 185.3 L677.3 187.7 L677.7 190.0 L678.1 192.4 L678.4 194.9 L678.8 197.5 L679.2 200.2 L679.5 202.9 L679.9 205.6 L680.3 208.4 L680.6 211.1 L681.0 213.7 L681.3 216.3 L681.7 218.7 L682.0 221.0 L682.3 223.2 L682.7 225.5 L683.0 227.7 L683.4 229.9 L683.7 232.0 L684.0 234.0 L684.3 236.0 L684.6 237.8 L684.9 239.4 L685.1 240.9 L685.3 242.2 L685.5 243.2" fill="none" stroke="#0a0a0a" stroke-width="1.8" stroke-linejoin="round" stroke-linecap="round" />
</g>
<text x="404.2" y="94.8" font-size="10.2" text-anchor="end" fill="#222" font-weight="normal" >54.0</text>
<text x="404.2" y="115.7" font-size="10.2" text-anchor="end" fill="#222" font-weight="normal" >52.0</text>
<text x="404.2" y="136.9" font-size="10.2" text-anchor="end" fill="#222" font-weight="normal" >50.0</text>
<text x="404.2" y="157.7" font-size="10.2" text-anchor="end" fill="#222" font-weight="normal" >48.0</text>
<text x="404.2" y="179.3" font-size="10.2" text-anchor="end" fill="#222" font-weight="normal" >46.0</text>
<text x="404.2" y="200.2" font-size="10.2" text-anchor="end" fill="#222" font-weight="normal" >44.0</text>
<text x="404.2" y="221.7" font-size="10.2" text-anchor="end" fill="#222" font-weight="normal" >42.0</text>
<text x="404.2" y="243.4" font-size="10.2" text-anchor="end" fill="#222" font-weight="normal" >40.0</text>
<text transform="translate(375.9 159.8) rotate(-90)" x="0" y="3.6" font-size="10" text-anchor="middle" fill="#222" font-weight="normal" textLength="49.9" lengthAdjust="spacingAndGlyphs" >Voltage (V)</text>
<text x="413.8" y="258.0" font-size="10.2" text-anchor="middle" fill="#333" font-weight="normal" >0</text>
<text x="444.9" y="258.0" font-size="10.2" text-anchor="middle" fill="#333" font-weight="normal" >10</text>
<text x="470.4" y="258.0" font-size="10.2" text-anchor="middle" fill="#333" font-weight="normal" >20</text>
<text x="499.7" y="257.1" font-size="10.2" text-anchor="middle" fill="#333" font-weight="normal" >30</text>
<text x="528.1" y="257.7" font-size="10.2" text-anchor="middle" fill="#333" font-weight="normal" >40</text>
<text x="552.9" y="258.0" font-size="10.2" text-anchor="middle" fill="#333" font-weight="normal" >50</text>
<text x="577.7" y="258.0" font-size="10.2" text-anchor="middle" fill="#333" font-weight="normal" >60</text>
<text x="607.0" y="257.1" font-size="10.2" text-anchor="middle" fill="#333" font-weight="normal" >70</text>
<text x="631.6" y="258.0" font-size="10.2" text-anchor="middle" fill="#333" font-weight="normal" >80</text>
<text x="657.6" y="258.0" font-size="10.2" text-anchor="middle" fill="#333" font-weight="normal" >90</text>
<text x="680.9" y="258.0" font-size="10.2" text-anchor="middle" fill="#333" font-weight="normal" >100</text>
<rect x="423.4" y="168.2" width="53.3" height="69.4" fill="#ffffff" stroke="#666" stroke-width="1" />
<rect x="431.4" y="177.8" width="13.2" height="3.4" fill="#0a0a0a" stroke="none" stroke-width="1" />
<text x="468.0" y="182.0" font-size="8.0" text-anchor="end" fill="#222" font-weight="normal" >50<tspan font-size="7.2" dx="0.6" fill="#444">℃</tspan></text>
<rect x="431.4" y="187.0" width="13.2" height="3.4" fill="#1296ee" stroke="none" stroke-width="1" />
<text x="468.0" y="191.2" font-size="8.0" text-anchor="end" fill="#222" font-weight="normal" >40<tspan font-size="7.2" dx="0.6" fill="#444">℃</tspan></text>
<rect x="431.4" y="195.1" width="13.2" height="3.4" fill="#e8288a" stroke="none" stroke-width="1" />
<text x="468.0" y="199.3" font-size="8.0" text-anchor="end" fill="#222" font-weight="normal" >30<tspan font-size="7.2" dx="0.6" fill="#444">℃</tspan></text>
<rect x="431.4" y="204.0" width="13.2" height="3.4" fill="#f58a10" stroke="none" stroke-width="1" />
<text x="468.0" y="208.2" font-size="8.0" text-anchor="end" fill="#222" font-weight="normal" >20<tspan font-size="7.2" dx="0.6" fill="#444">℃</tspan></text>
<rect x="431.4" y="212.5" width="13.2" height="3.4" fill="#3c5a90" stroke="none" stroke-width="1" />
<text x="468.0" y="216.7" font-size="8.0" text-anchor="end" fill="#222" font-weight="normal" >10<tspan font-size="7.2" dx="0.6" fill="#444">℃</tspan></text>
<rect x="431.4" y="219.8" width="13.2" height="3.4" fill="#ee1c1c" stroke="none" stroke-width="1" />
<text x="468.0" y="224.0" font-size="8.0" text-anchor="end" fill="#222" font-weight="normal" >0<tspan font-size="7.2" dx="0.6" fill="#444">℃</tspan></text>
<rect x="431.4" y="227.8" width="13.2" height="3.4" fill="#068a3c" stroke="none" stroke-width="1" />
<text x="468.0" y="232.0" font-size="8.0" text-anchor="end" fill="#222" font-weight="normal" >-10<tspan font-size="7.2" dx="0.6" fill="#444">℃</tspan></text>
<line x1="801.6" y1="86.8" x2="801.6" y2="231.7" stroke="#aba5b3" stroke-width="1" stroke-dasharray="4 3"/>
<line x1="852.0" y1="86.8" x2="852.0" y2="231.7" stroke="#aba5b3" stroke-width="1" stroke-dasharray="4 3"/>
<line x1="903.2" y1="86.8" x2="903.2" y2="231.7" stroke="#aba5b3" stroke-width="1" stroke-dasharray="4 3"/>
<line x1="954.2" y1="86.8" x2="954.2" y2="231.7" stroke="#aba5b3" stroke-width="1" stroke-dasharray="4 3"/>
<line x1="751.0" y1="101.1" x2="1007.6" y2="101.1" stroke="#aba5b3" stroke-width="1" stroke-dasharray="4 3"/>
<line x1="751.0" y1="116.2" x2="1007.6" y2="116.2" stroke="#aba5b3" stroke-width="1" stroke-dasharray="4 3"/>
<line x1="751.0" y1="131.4" x2="1007.6" y2="131.4" stroke="#aba5b3" stroke-width="1" stroke-dasharray="4 3"/>
<line x1="751.0" y1="144.9" x2="1007.6" y2="144.9" stroke="#aba5b3" stroke-width="1" stroke-dasharray="4 3"/>
<line x1="751.0" y1="158.5" x2="1007.6" y2="158.5" stroke="#aba5b3" stroke-width="1" stroke-dasharray="4 3"/>
<line x1="751.0" y1="172.9" x2="1007.6" y2="172.9" stroke="#aba5b3" stroke-width="1" stroke-dasharray="4 3"/>
<line x1="751.0" y1="187.7" x2="1007.6" y2="187.7" stroke="#aba5b3" stroke-width="1" stroke-dasharray="4 3"/>
<line x1="751.0" y1="203.9" x2="1007.6" y2="203.9" stroke="#aba5b3" stroke-width="1" stroke-dasharray="4 3"/>
<line x1="751.0" y1="218.4" x2="1007.6" y2="218.4" stroke="#aba5b3" stroke-width="1" stroke-dasharray="4 3"/>
<path d="M752.5 157.6 L752.5 157.3 L752.6 157.0 L752.7 156.6 L752.7 156.1 L752.8 155.6 L752.9 155.1 L753.0 154.5 L753.1 154.0 L753.2 153.5 L753.2 152.9 L753.3 152.4 L753.4 152.0 L753.5 151.6 L753.5 151.3 L753.6 150.9 L753.7 150.6 L753.7 150.3 L753.8 150.0 L753.9 149.7 L753.9 149.4 L754.0 149.0 L754.1 148.6 L754.2 148.1 L754.3 147.5 L754.4 146.8 L754.5 146.1 L754.7 145.2 L754.8 144.3 L754.9 143.4 L755.1 142.4 L755.2 141.4 L755.4 140.5 L755.6 139.5 L755.7 138.7 L755.9 137.8 L756.1 137.1 L756.3 136.4 L756.5 135.8 L756.7 135.2 L756.9 134.6 L757.1 134.1 L757.4 133.6 L757.6 133.1 L757.8 132.6 L758.0 132.2 L758.3 131.8 L758.5 131.4 L758.7 131.0 L758.9 130.7 L759.1 130.4 L759.2 130.1 L759.3 129.9 L759.5 129.6 L759.6 129.4 L759.8 129.3 L760.0 129.1 L760.2 128.9 L760.5 128.8 L760.9 128.6 L761.3 128.4 L761.8 128.2 L762.3 128.0 L762.9 127.8 L763.6 127.7 L764.2 127.5 L764.9 127.3 L765.7 127.1 L766.5 127.0 L767.3 126.8 L768.2 126.6 L769.1 126.5 L770.0 126.3 L771.0 126.1 L772.0 126.0 L773.0 125.8 L774.1 125.6 L775.3 125.5 L776.4 125.3 L777.6 125.1 L778.9 125.0 L780.1 124.8 L781.4 124.6 L782.7 124.5 L784.0 124.3 L785.3 124.1 L786.6 123.9 L788.0 123.8 L789.3 123.6 L790.7 123.4 L792.1 123.2 L793.5 123.0 L795.0 122.9 L796.6 122.7 L798.2 122.5 L799.8 122.4 L801.6 122.2 L803.4 122.0 L805.4 121.9 L807.4 121.8 L809.5 121.6 L811.7 121.5 L813.8 121.3 L816.1 121.2 L818.3 121.1 L820.5 120.9 L822.7 120.8 L824.9 120.7 L827.0 120.6 L829.1 120.5 L831.2 120.4 L833.3 120.3 L835.4 120.2 L837.5 120.2 L839.6 120.1 L841.7 120.0 L843.8 119.9 L845.9 119.9 L848.0 119.8 L850.0 119.7 L852.0 119.6 L854.0 119.5 L856.0 119.4 L857.9 119.3 L859.9 119.2 L861.8 119.1 L863.8 118.9 L865.7 118.8 L867.6 118.7 L869.4 118.6 L871.3 118.4 L873.2 118.3 L875.0 118.2 L876.8 118.1 L878.7 118.0 L880.5 117.8 L882.3 117.7 L884.1 117.6 L885.9 117.5 L887.7 117.3 L889.4 117.2 L891.1 117.1 L892.8 117.0 L894.4 116.8 L895.9 116.7 L897.4 116.6 L898.8 116.5 L900.2 116.3 L901.5 116.2 L902.8 116.1 L904.1 116.0 L905.3 115.9 L906.5 115.8 L907.7 115.6 L908.9 115.5 L910.1 115.3 L911.3 115.1 L912.5 114.9 L913.7 114.7 L914.9 114.4 L916.1 114.2 L917.3 113.9 L918.4 113.6 L919.5 113.3 L920.7 113.0 L921.7 112.7 L922.8 112.5 L923.8 112.2 L924.8 111.9 L925.8 111.6 L926.7 111.4 L927.6 111.1 L928.5 110.8 L929.3 110.5 L930.1 110.3 L930.9 110.0 L931.7 109.7 L932.4 109.4 L933.2 109.2 L933.8 108.9 L934.5 108.6 L935.1 108.3 L935.7 108.0 L936.3 107.7 L936.8 107.4 L937.3 107.1 L937.8 106.8 L938.3 106.5 L938.7 106.2 L939.1 106.0 L939.5 105.7 L939.9 105.4 L940.3 105.1 L940.6 104.8 L941.0 104.6 L941.3 104.3 L941.5 104.1 L941.8 103.8 L942.0 103.6 L942.3 103.3 L942.5 103.1 L942.7 102.8 L942.8 102.6 L943.0 102.3 L943.2 102.0 L943.4 101.7 L943.5 101.3 L943.7 101.0 L943.8 100.6 L943.9 100.2 L944.0 99.8 L944.1 99.4 L944.2 99.1 L944.3 98.7 L944.4 98.4 L944.4 98.2 L944.5 98.0" fill="none" stroke="#6060b4" stroke-width="1.8" stroke-linejoin="round" stroke-linecap="round" />
<path d="M944.5 98.0 L975.8 98.0" fill="none" stroke="#6060b4" stroke-width="1.8" stroke-linejoin="round" stroke-linecap="round" />
<path d="M751.0 172.9 L751.5 172.7 L752.1 172.4 L752.8 172.1 L753.6 171.8 L754.4 171.5 L755.4 171.1 L756.4 170.7 L757.4 170.2 L758.5 169.8 L759.6 169.3 L760.8 168.9 L762.0 168.4 L763.2 167.9 L764.6 167.4 L765.9 166.9 L767.3 166.4 L768.8 165.9 L770.3 165.3 L771.9 164.7 L773.5 164.1 L775.1 163.5 L776.7 162.9 L778.4 162.3 L780.0 161.6 L781.7 160.9 L783.3 160.2 L785.1 159.5 L786.8 158.8 L788.6 158.1 L790.3 157.3 L792.1 156.5 L794.0 155.7 L795.8 154.9 L797.7 154.1 L799.7 153.3 L801.6 152.4 L803.6 151.5 L805.6 150.6 L807.7 149.7 L809.8 148.7 L811.9 147.8 L814.1 146.8 L816.3 145.8 L818.4 144.8 L820.6 143.8 L822.7 142.9 L824.9 141.9 L827.0 140.9 L829.1 139.9 L831.2 139.0 L833.3 138.0 L835.4 137.0 L837.5 136.0 L839.6 135.0 L841.7 134.1 L843.8 133.1 L845.9 132.1 L848.0 131.1 L850.0 130.2 L852.0 129.2 L854.0 128.2 L856.1 127.2 L858.1 126.2 L860.1 125.2 L862.2 124.2 L864.2 123.2 L866.2 122.2 L868.1 121.2 L869.9 120.3 L871.7 119.4 L873.4 118.5 L875.0 117.7 L876.5 116.9 L877.9 116.2 L879.1 115.6 L880.3 115.0 L881.5 114.4 L882.6 113.8 L883.6 113.2 L884.7 112.7 L885.7 112.1 L886.8 111.6 L887.9 111.0 L889.0 110.4 L890.2 109.8 L891.4 109.2 L892.6 108.5 L893.8 107.9 L895.0 107.3 L896.2 106.7 L897.4 106.0 L898.6 105.4 L899.8 104.8 L900.9 104.3 L902.0 103.7 L903.0 103.2 L904.0 102.7 L904.9 102.2 L905.8 101.8 L906.6 101.4 L907.4 100.9 L908.2 100.5 L909.0 100.1 L909.8 99.8 L910.6 99.4 L911.5 99.0 L912.3 98.7 L913.2 98.3 L914.1 97.9 L915.0 97.6 L916.0 97.3 L916.9 96.9 L917.8 96.6 L918.8 96.3 L919.8 96.0 L920.8 95.7 L921.8 95.4 L922.8 95.1 L923.9 94.8 L925.0 94.5 L926.1 94.2 L927.3 93.9 L928.5 93.6 L929.8 93.3 L931.1 93.0 L932.4 92.8 L933.7 92.5 L935.0 92.2 L936.2 91.9 L937.5 91.7 L938.8 91.4 L940.0 91.2 L941.2 91.0 L942.4 90.8 L943.6 90.6 L944.8 90.4 L946.0 90.2 L947.2 90.0 L948.4 89.8 L949.6 89.6 L950.7 89.5 L951.8 89.3 L952.9 89.1 L954.0 89.0 L955.0 88.9 L956.0 88.7 L957.0 88.6 L958.0 88.5 L958.9 88.4 L959.8 88.3 L960.7 88.2 L961.6 88.1 L962.6 88.0 L963.5 87.9 L964.4 87.8 L965.4 87.7 L966.4 87.6 L967.5 87.5 L968.7 87.4 L969.8 87.3 L971.0 87.2 L972.2 87.1 L973.3 87.0 L974.3 86.9 L975.3 86.8 L976.2 86.7 L976.9 86.7 L977.5 86.6" fill="none" stroke="#c8306e" stroke-width="1.8" stroke-linejoin="round" stroke-linecap="round" />
<rect x="797.9" y="197.9" width="136.1" height="23.2" fill="none" stroke="#666" stroke-width="1.1" />
<rect x="807.0" y="203.7" width="30.0" height="2.8" fill="#6060b4" stroke="none" stroke-width="1" />
<rect x="807.0" y="213.1" width="30.0" height="2.8" fill="#c8306e" stroke="none" stroke-width="1" />
<text x="851.6" y="207.1" font-size="7.6" text-anchor="start" fill="#222" font-weight="normal" textLength="24.4" lengthAdjust="spacingAndGlyphs" >Voltage</text>
<text x="851.6" y="216.6" font-size="7.6" text-anchor="start" fill="#222" font-weight="normal" textLength="53.3" lengthAdjust="spacingAndGlyphs" >State of Charge</text>
<rect x="751.0" y="86.8" width="256.6" height="144.9" fill="none" stroke="#0a0a0a" stroke-width="1.8"/>
<text x="747.4" y="92.7" font-size="9.6" text-anchor="end" fill="#111" font-weight="normal" >60.0</text>
<text x="747.4" y="106.7" font-size="9.6" text-anchor="end" fill="#111" font-weight="normal" >58.0</text>
<text x="747.4" y="121.0" font-size="9.6" text-anchor="end" fill="#111" font-weight="normal" >56.0</text>
<text x="747.4" y="135.3" font-size="9.6" text-anchor="end" fill="#111" font-weight="normal" >54.0</text>
<text x="747.4" y="149.2" font-size="9.6" text-anchor="end" fill="#111" font-weight="normal" >52.0</text>
<text x="747.4" y="163.2" font-size="9.6" text-anchor="end" fill="#111" font-weight="normal" >50.0</text>
<text x="747.4" y="177.1" font-size="9.6" text-anchor="end" fill="#111" font-weight="normal" >48.0</text>
<text x="747.4" y="191.8" font-size="9.6" text-anchor="end" fill="#111" font-weight="normal" >46.0</text>
<text x="747.4" y="206.7" font-size="9.6" text-anchor="end" fill="#111" font-weight="normal" >44.0</text>
<text x="747.4" y="220.3" font-size="9.6" text-anchor="end" fill="#111" font-weight="normal" >42.0</text>
<text x="747.4" y="234.4" font-size="9.6" text-anchor="end" fill="#111" font-weight="normal" >40.0</text>
<text x="1021.6" y="92.3" font-size="9.8" text-anchor="middle" fill="#222" font-weight="normal" >100</text>
<text x="1021.6" y="106.7" font-size="9.8" text-anchor="middle" fill="#222" font-weight="normal" >90</text>
<text x="1021.6" y="120.6" font-size="9.8" text-anchor="middle" fill="#222" font-weight="normal" >80</text>
<text x="1021.6" y="135.1" font-size="9.8" text-anchor="middle" fill="#222" font-weight="normal" >70</text>
<text x="1021.6" y="149.3" font-size="9.8" text-anchor="middle" fill="#222" font-weight="normal" >60</text>
<text x="1021.6" y="163.3" font-size="9.8" text-anchor="middle" fill="#222" font-weight="normal" >50</text>
<text x="1021.6" y="177.2" font-size="9.8" text-anchor="middle" fill="#222" font-weight="normal" >40</text>
<text x="1021.6" y="191.9" font-size="9.8" text-anchor="middle" fill="#222" font-weight="normal" >30</text>
<text x="1021.6" y="206.8" font-size="9.8" text-anchor="middle" fill="#222" font-weight="normal" >20</text>
<text x="1021.6" y="220.7" font-size="9.8" text-anchor="middle" fill="#222" font-weight="normal" >10</text>
<text x="1021.6" y="234.5" font-size="9.8" text-anchor="middle" fill="#222" font-weight="normal" >0</text>
<text transform="translate(720.9 159.5) rotate(-90)" x="0" y="3.5" font-size="9.8" text-anchor="middle" fill="#222" font-weight="normal" textLength="48.2" lengthAdjust="spacingAndGlyphs" >Voltage (V)</text>
<text transform="translate(1033.6 155.2) rotate(-90)" x="0" y="3.4" font-size="9.4" text-anchor="middle" fill="#222" font-weight="normal" textLength="65.0" lengthAdjust="spacingAndGlyphs" >State of Charge</text>
<text x="751.1" y="243.0" font-size="10" text-anchor="middle" fill="#222" font-weight="normal" >0</text>
<text x="802.8" y="244.1" font-size="10" text-anchor="middle" fill="#222" font-weight="normal" >30</text>
<text x="852.7" y="243.0" font-size="10" text-anchor="middle" fill="#222" font-weight="normal" >60</text>
<text x="903.9" y="244.1" font-size="10" text-anchor="middle" fill="#222" font-weight="normal" >90</text>
<text x="954.9" y="244.1" font-size="10" text-anchor="middle" fill="#222" font-weight="normal" >120</text>
<text x="1007.7" y="244.1" font-size="10" text-anchor="middle" fill="#222" font-weight="normal" >150</text>
<text x="879.0" y="260.1" font-size="10" text-anchor="middle" fill="#222" font-weight="normal" textLength="112.7" lengthAdjust="spacingAndGlyphs" >Charging Time ( Minutes)</text>
<line x1="96.7" y1="323.0" x2="96.7" y2="467.1" stroke="#aba5b3" stroke-width="1" stroke-dasharray="4 3"/>
<line x1="132.8" y1="323.0" x2="132.8" y2="467.1" stroke="#aba5b3" stroke-width="1" stroke-dasharray="4 3"/>
<line x1="169.6" y1="323.0" x2="169.6" y2="467.1" stroke="#aba5b3" stroke-width="1" stroke-dasharray="4 3"/>
<line x1="206.0" y1="323.0" x2="206.0" y2="467.1" stroke="#aba5b3" stroke-width="1" stroke-dasharray="4 3"/>
<line x1="242.7" y1="323.0" x2="242.7" y2="467.1" stroke="#aba5b3" stroke-width="1" stroke-dasharray="4 3"/>
<line x1="279.4" y1="323.0" x2="279.4" y2="467.1" stroke="#aba5b3" stroke-width="1" stroke-dasharray="4 3"/>
<line x1="58.0" y1="336.3" x2="316.8" y2="336.3" stroke="#aba5b3" stroke-width="1" stroke-dasharray="4 3"/>
<line x1="58.0" y1="352.3" x2="316.8" y2="352.3" stroke="#aba5b3" stroke-width="1" stroke-dasharray="4 3"/>
<line x1="58.0" y1="367.3" x2="316.8" y2="367.3" stroke="#aba5b3" stroke-width="1" stroke-dasharray="4 3"/>
<line x1="58.0" y1="381.0" x2="316.8" y2="381.0" stroke="#aba5b3" stroke-width="1" stroke-dasharray="4 3"/>
<line x1="58.0" y1="394.3" x2="316.8" y2="394.3" stroke="#aba5b3" stroke-width="1" stroke-dasharray="4 3"/>
<line x1="58.0" y1="409.0" x2="316.8" y2="409.0" stroke="#aba5b3" stroke-width="1" stroke-dasharray="4 3"/>
<line x1="58.0" y1="423.8" x2="316.8" y2="423.8" stroke="#aba5b3" stroke-width="1" stroke-dasharray="4 3"/>
<line x1="58.0" y1="439.4" x2="316.8" y2="439.4" stroke="#aba5b3" stroke-width="1" stroke-dasharray="4 3"/>
<line x1="58.0" y1="454.2" x2="316.8" y2="454.2" stroke="#aba5b3" stroke-width="1" stroke-dasharray="4 3"/>
<path d="M96.7 338.9 L180.0 338.3 L258.6 338.3" fill="none" stroke="#3f5f9a" stroke-width="1.8" stroke-linejoin="round" stroke-linecap="round" />
<path d="M258.6 338.3 L258.6 339.9 L258.5 341.9 L258.4 344.4 L258.3 347.1 L258.3 350.1 L258.2 353.2 L258.1 356.4 L258.0 359.5 L257.9 362.5 L257.8 365.3 L257.7 367.8 L257.6 370.0 L257.5 371.8 L257.4 373.4 L257.3 374.8 L257.2 376.0 L257.1 377.1 L257.0 378.1 L257.0 379.1 L256.9 380.1 L256.8 381.1 L256.7 382.3 L256.7 383.6 L256.6 385.0 L256.6 386.6 L256.5 388.4 L256.5 390.2 L256.5 392.1 L256.5 394.1 L256.5 396.1 L256.4 398.1 L256.4 400.0 L256.5 402.0 L256.5 403.8 L256.5 405.6 L256.5 407.2 L256.5 408.7 L256.5 410.2 L256.6 411.6 L256.6 413.0 L256.6 414.4 L256.7 415.6 L256.7 416.9 L256.8 418.1 L256.8 419.3 L256.9 420.4 L257.0 421.6 L257.1 422.7 L257.2 423.8 L257.3 424.8 L257.5 425.8 L257.6 426.8 L257.8 427.7 L258.0 428.6 L258.1 429.5 L258.3 430.3 L258.6 431.2 L258.8 432.1 L259.0 432.9 L259.3 433.8 L259.6 434.7 L259.9 435.6 L260.2 436.5 L260.6 437.3 L260.9 438.2 L261.3 439.1 L261.7 439.9 L262.1 440.8 L262.5 441.6 L262.9 442.3 L263.3 443.1 L263.8 443.8 L264.3 444.5 L264.8 445.1 L265.3 445.8 L265.8 446.4 L266.3 447.0 L266.9 447.5 L267.5 448.1 L268.0 448.6 L268.6 449.1 L269.2 449.6 L269.8 450.1 L270.4 450.5 L271.0 450.9 L271.6 451.3 L272.2 451.7 L272.9 452.0 L273.5 452.4 L274.2 452.7 L274.8 453.0 L275.5 453.2 L276.1 453.5 L276.8 453.8 L277.5 454.0 L278.2 454.2 L278.9 454.4 L279.6 454.6 L280.4 454.8 L281.1 454.9 L281.9 455.1 L282.7 455.2 L283.4 455.3 L284.2 455.4 L284.9 455.5 L285.7 455.5 L286.4 455.6 L287.1 455.6 L287.8 455.6 L288.6 455.6 L289.3 455.5 L290.1 455.4 L290.8 455.3 L291.6 455.2 L292.3 455.1 L292.9 455.0 L293.5 454.9 L294.1 454.8 L294.5 454.8 L294.9 454.7" fill="none" stroke="#2c4f7e" stroke-width="1.7" stroke-linejoin="round" stroke-linecap="round" />
<path d="M95.7 467.0 L95.8 466.3 L95.9 465.4 L96.0 464.4 L96.1 463.3 L96.3 462.0 L96.4 460.7 L96.6 459.3 L96.7 457.8 L96.8 456.3 L97.0 454.7 L97.1 453.2 L97.2 451.6 L97.3 450.0 L97.4 448.3 L97.4 446.5 L97.5 444.6 L97.5 442.7 L97.5 440.8 L97.6 438.8 L97.6 436.9 L97.7 435.0 L97.7 433.1 L97.8 431.2 L97.9 429.4 L98.0 427.6 L98.1 425.8 L98.2 424.1 L98.3 422.3 L98.4 420.5 L98.5 418.8 L98.6 417.1 L98.8 415.4 L98.9 413.8 L99.1 412.3 L99.2 410.8 L99.4 409.4 L99.6 408.1 L99.8 406.9 L100.0 405.7 L100.2 404.6 L100.4 403.6 L100.7 402.6 L100.9 401.7 L101.2 400.7 L101.4 399.8 L101.7 399.0 L102.0 398.1 L102.3 397.2 L102.6 396.3 L103.0 395.5 L103.3 394.6 L103.7 393.8 L104.1 393.0 L104.5 392.2 L104.9 391.5 L105.3 390.8 L105.7 390.1 L106.1 389.4 L106.5 388.8 L106.8 388.3 L107.1 387.8 L107.4 387.4 L107.6 387.1 L107.9 386.8 L108.1 386.5 L108.3 386.3 L108.6 386.1 L108.8 385.8 L109.1 385.6 L109.4 385.3 L109.7 385.0 L110.1 384.6 L110.5 384.2 L111.0 383.7 L111.5 383.1 L112.0 382.6 L112.5 382.0 L113.0 381.4 L113.6 380.9 L114.2 380.3 L114.7 379.7 L115.3 379.1 L115.9 378.6 L116.5 378.1 L117.1 377.6 L117.7 377.1 L118.3 376.7 L118.9 376.2 L119.5 375.8 L120.1 375.3 L120.7 374.9 L121.4 374.5 L122.0 374.1 L122.7 373.7 L123.3 373.3 L124.0 372.9 L124.7 372.5 L125.4 372.2 L126.1 371.9 L126.8 371.6 L127.6 371.3 L128.3 371.0 L129.1 370.7 L129.8 370.5 L130.6 370.2 L131.3 369.9 L132.1 369.7 L132.8 369.4 L133.5 369.1 L134.3 368.8 L135.1 368.6 L135.8 368.3 L136.6 368.0 L137.4 367.7 L138.1 367.5 L138.9 367.2 L139.6 367.0 L140.3 366.7 L141.0 366.5 L141.7 366.3 L142.4 366.1 L143.0 365.9 L143.7 365.8 L144.3 365.6 L145.0 365.4 L145.6 365.3 L146.2 365.2 L146.7 365.1 L147.2 365.0 L147.7 364.9 L148.1 364.8 L148.4 364.7" fill="none" stroke="#068a3c" stroke-width="1.9" stroke-linejoin="round" stroke-linecap="round" />
<path d="M148.4 364.7 L149.4 364.7 L150.7 364.6 L152.3 364.5 L154.0 364.5 L155.9 364.4 L157.8 364.3 L159.9 364.2 L162.0 364.1 L164.0 364.0 L166.0 363.9 L167.9 363.8 L169.6 363.7 L171.2 363.6 L172.8 363.5 L174.4 363.4 L176.0 363.3 L177.5 363.2 L179.0 363.1 L180.5 363.0 L182.0 362.9 L183.5 362.8 L185.0 362.6 L186.5 362.5 L188.0 362.4 L189.5 362.3 L191.0 362.2 L192.4 362.0 L193.8 361.9 L195.3 361.8 L196.7 361.6 L198.1 361.5 L199.6 361.3 L201.1 361.2 L202.7 361.0 L204.2 360.9 L205.9 360.7 L207.6 360.5 L209.5 360.3 L211.4 360.1 L213.4 359.9 L215.4 359.7 L217.4 359.4 L219.4 359.2 L221.4 359.0 L223.3 358.7 L225.2 358.5 L226.9 358.3 L228.5 358.1 L230.0 357.9 L231.4 357.7 L232.8 357.5 L234.2 357.3 L235.4 357.1 L236.6 356.9 L237.8 356.7 L238.9 356.5 L239.9 356.4 L240.9 356.2 L241.8 356.0 L242.7 355.8 L243.5 355.6 L244.2 355.5 L244.8 355.3 L245.3 355.1 L245.8 355.0 L246.2 354.8 L246.6 354.7 L247.0 354.5 L247.3 354.3 L247.7 354.1 L248.1 353.9 L248.5 353.7 L248.9 353.5 L249.3 353.2 L249.8 353.0 L250.2 352.7 L250.6 352.4 L251.0 352.1 L251.3 351.9 L251.7 351.6 L252.1 351.3 L252.4 350.9 L252.7 350.6 L253.0 350.3 L253.3 350.0 L253.5 349.6 L253.8 349.3 L254.0 348.9 L254.2 348.6 L254.4 348.2 L254.6 347.8 L254.8 347.5 L254.9 347.1 L255.1 346.7 L255.2 346.3 L255.4 345.9 L255.5 345.5 L255.7 345.1 L255.8 344.7 L255.9 344.3 L256.0 343.8 L256.1 343.4 L256.2 343.0 L256.3 342.5 L256.4 342.1 L256.5 341.6 L256.5 341.2 L256.6 340.7 L256.7 340.2 L256.7 339.7 L256.7 339.1 L256.7 338.5 L256.8 337.9 L256.8 337.3 L256.8 336.8 L256.8 336.2 L256.8 335.7 L256.8 335.3 L256.8 334.9 L256.8 334.6" fill="none" stroke="#068a3c" stroke-width="1.9" stroke-linejoin="round" stroke-linecap="round" />
<path d="M256.8 334.6 L290.3 334.6" fill="none" stroke="#068a3c" stroke-width="1.9" stroke-linejoin="round" stroke-linecap="round" />
<rect x="105.4" y="433.5" width="136.7" height="22.6" fill="#ffffff" stroke="#666" stroke-width="1.1" />
<line x1="106.0" y1="454.6" x2="241.5" y2="454.6" stroke="#aba5b3" stroke-width="1" stroke-dasharray="4 3"/>
<rect x="114.7" y="439.2" width="30.0" height="2.8" fill="#068a3c" stroke="none" stroke-width="1" />
<rect x="114.7" y="449.1" width="30.0" height="2.8" fill="#3f5f9a" stroke="none" stroke-width="1" />
<text x="158.8" y="443.0" font-size="7.6" text-anchor="start" fill="#222" font-weight="normal" textLength="25.2" lengthAdjust="spacingAndGlyphs" >Voltage</text>
<text x="159.8" y="452.1" font-size="7.6" text-anchor="start" fill="#222" font-weight="normal" textLength="58.9" lengthAdjust="spacingAndGlyphs" >Charging Current</text>
<rect x="58.0" y="323.0" width="258.8" height="144.1" fill="none" stroke="#0a0a0a" stroke-width="1.8"/>
<text x="53.3" y="328.1" font-size="9.6" text-anchor="end" fill="#111" font-weight="normal" >60.0</text>
<text x="53.3" y="342.0" font-size="9.6" text-anchor="end" fill="#111" font-weight="normal" >58.0</text>
<text x="53.3" y="356.3" font-size="9.6" text-anchor="end" fill="#111" font-weight="normal" >56.0</text>
<text x="53.3" y="370.7" font-size="9.6" text-anchor="end" fill="#111" font-weight="normal" >54.0</text>
<text x="53.3" y="385.0" font-size="9.6" text-anchor="end" fill="#111" font-weight="normal" >52.0</text>
<text x="53.3" y="399.2" font-size="9.6" text-anchor="end" fill="#111" font-weight="normal" >50.0</text>
<text x="53.3" y="412.8" font-size="9.6" text-anchor="end" fill="#111" font-weight="normal" >48.0</text>
<text x="53.3" y="427.7" font-size="9.6" text-anchor="end" fill="#111" font-weight="normal" >46.0</text>
<text x="53.3" y="441.7" font-size="9.6" text-anchor="end" fill="#111" font-weight="normal" >44.0</text>
<text x="53.3" y="455.6" font-size="9.6" text-anchor="end" fill="#111" font-weight="normal" >42.0</text>
<text x="53.3" y="470.1" font-size="9.6" text-anchor="end" fill="#111" font-weight="normal" >40.0</text>
<text transform="translate(26.0 395.8) rotate(-90)" x="0" y="3.5" font-size="9.8" text-anchor="middle" fill="#222" font-weight="normal" textLength="47.9" lengthAdjust="spacingAndGlyphs" >Voltage (V)</text>
<text x="96.1" y="482.3" font-size="10" text-anchor="middle" fill="#222" font-weight="normal" >0</text>
<text x="133.4" y="482.5" font-size="10" text-anchor="middle" fill="#222" font-weight="normal" >20</text>
<text x="170.0" y="482.5" font-size="10" text-anchor="middle" fill="#222" font-weight="normal" >40</text>
<text x="206.5" y="482.9" font-size="10" text-anchor="middle" fill="#222" font-weight="normal" >60</text>
<text x="244.9" y="483.6" font-size="10" text-anchor="middle" fill="#222" font-weight="normal" >80</text>
<text x="280.9" y="483.6" font-size="10" text-anchor="middle" fill="#222" font-weight="normal" >100</text>
<text x="318.2" y="484.4" font-size="10" text-anchor="middle" fill="#222" font-weight="normal" >120</text>
<text x="182.2" y="496.3" font-size="10.2" text-anchor="middle" fill="#222" font-weight="normal" textLength="103.3" lengthAdjust="spacingAndGlyphs" >Charging Capacity (%)</text>
<text x="325.0" y="342.0" font-size="10" text-anchor="start" fill="#333" font-weight="normal" >50.00</text>
<text x="322.8" y="398.2" font-size="10" text-anchor="start" fill="#333" font-weight="normal" >25.00</text>
<text x="323.0" y="458.5" font-size="10" text-anchor="start" fill="#333" font-weight="normal" >2.00</text>
<text x="325.5" y="472.5" font-size="10" text-anchor="middle" fill="#333" font-weight="normal" >0</text>
<line x1="439.6" y1="340.3" x2="439.6" y2="464.9" stroke="#b4b4b4" stroke-width="1" stroke-dasharray="4 3"/>
<line x1="466.4" y1="340.3" x2="466.4" y2="464.9" stroke="#b4b4b4" stroke-width="1" stroke-dasharray="4 3"/>
<line x1="493.7" y1="340.3" x2="493.7" y2="464.9" stroke="#b4b4b4" stroke-width="1" stroke-dasharray="4 3"/>
<line x1="521.2" y1="340.3" x2="521.2" y2="464.9" stroke="#b4b4b4" stroke-width="1" stroke-dasharray="4 3"/>
<line x1="548.4" y1="340.3" x2="548.4" y2="464.9" stroke="#b4b4b4" stroke-width="1" stroke-dasharray="4 3"/>
<line x1="575.5" y1="340.3" x2="575.5" y2="464.9" stroke="#b4b4b4" stroke-width="1" stroke-dasharray="4 3"/>
<line x1="602.7" y1="340.3" x2="602.7" y2="464.9" stroke="#b4b4b4" stroke-width="1" stroke-dasharray="4 3"/>
<line x1="630.1" y1="340.3" x2="630.1" y2="464.9" stroke="#b4b4b4" stroke-width="1" stroke-dasharray="4 3"/>
<line x1="410.0" y1="340.3" x2="630.1" y2="340.3" stroke="#b4b4b4" stroke-width="1" stroke-dasharray="4 3"/>
<line x1="410.0" y1="373.2" x2="630.1" y2="373.2" stroke="#b4b4b4" stroke-width="1" stroke-dasharray="4 3"/>
<line x1="410.0" y1="405.4" x2="630.1" y2="405.4" stroke="#b4b4b4" stroke-width="1" stroke-dasharray="4 3"/>
<line x1="410.0" y1="437.6" x2="630.1" y2="437.6" stroke="#b4b4b4" stroke-width="1" stroke-dasharray="4 3"/>
<path d="M410.0 340.3 L630.0 403.2" fill="none" stroke="#a8478f" stroke-width="1.6" stroke-linejoin="round" stroke-linecap="round" />
<path d="M410.0 340.3 L548.4 405.4" fill="none" stroke="#ffe100" stroke-width="2.0" stroke-linejoin="round" stroke-linecap="round" />
<path d="M410.0 340.3 L493.7 405.4" fill="none" stroke="#e6221c" stroke-width="1.8" stroke-linejoin="round" stroke-linecap="round" />
<path d="M410.0 340.3 L466.4 405.4" fill="none" stroke="#3fb4d2" stroke-width="1.6" stroke-linejoin="round" stroke-linecap="round" />
<path d="M410.0 327.0 V464.9 H667.0" fill="none" stroke="#1a1a1a" stroke-width="1.3"/>
<path d="M410.0 321.4 l-3.9 6.4 h7.8 z" fill="#1a1a1a"/>
<path d="M673.1 464.9 l-7.4 -3.4 v6.8 z" fill="#1a1a1a"/>
<text x="403.8" y="345.8" font-size="8.8" text-anchor="end" fill="#222" font-weight="normal" >100</text>
<text x="403.8" y="376.4" font-size="8.8" text-anchor="end" fill="#222" font-weight="normal" >90</text>
<text x="403.8" y="408.6" font-size="8.8" text-anchor="end" fill="#222" font-weight="normal" >80</text>
<text x="403.8" y="441.5" font-size="8.8" text-anchor="end" fill="#222" font-weight="normal" >70</text>
<text x="403.8" y="468.8" font-size="8.8" text-anchor="end" fill="#222" font-weight="normal" >60</text>
<text transform="translate(381.6 391.8) rotate(-90)" x="0" y="3.4" font-size="9.5" text-anchor="middle" fill="#222" font-weight="normal" textLength="97.3" lengthAdjust="spacingAndGlyphs" >Remaining Capacity (%)</text>
<text x="411.6" y="477.4" font-size="8.7" text-anchor="middle" fill="#222" font-weight="normal" >0</text>
<text x="439.0" y="477.4" font-size="8.7" text-anchor="middle" fill="#222" font-weight="normal" >2000</text>
<text x="466.0" y="477.4" font-size="8.7" text-anchor="middle" fill="#222" font-weight="normal" >4000</text>
<text x="493.4" y="477.4" font-size="8.7" text-anchor="middle" fill="#222" font-weight="normal" >6000</text>
<text x="520.7" y="477.4" font-size="8.7" text-anchor="middle" fill="#222" font-weight="normal" >8000</text>
<text x="546.5" y="477.4" font-size="8.7" text-anchor="middle" fill="#222" font-weight="normal" >10000</text>
<text x="577.5" y="477.4" font-size="8.7" text-anchor="middle" fill="#222" font-weight="normal" >12000</text>
<text x="605.0" y="477.4" font-size="8.7" text-anchor="middle" fill="#222" font-weight="normal" >14000</text>
<text x="633.8" y="477.4" font-size="8.7" text-anchor="middle" fill="#222" font-weight="normal" >16000</text>
<text x="533.0" y="496.2" font-size="10" text-anchor="middle" fill="#222" font-weight="normal" textLength="80.7" lengthAdjust="spacingAndGlyphs" >Number of Cycles</text>
<text x="657.2" y="333.2" font-size="11.2" text-anchor="middle" fill="#111" font-weight="normal" textLength="57.9" lengthAdjust="spacingAndGlyphs" stroke="#111" stroke-width="0.25">Square Cell</text>
<rect x="633.9" y="367.6" width="47.8" height="68.9" fill="#ffffff" stroke="#666" stroke-width="1" />
<rect x="640.3" y="374.9" width="15.3" height="2.8" fill="#a8478f" stroke="none" stroke-width="1" />
<text x="679.6" y="379.7" font-size="9.4" text-anchor="end" fill="#333" font-weight="normal" >30%</text>
<rect x="640.3" y="391.6" width="15.3" height="2.8" fill="#ffe100" stroke="none" stroke-width="1" />
<text x="679.6" y="396.4" font-size="9.4" text-anchor="end" fill="#333" font-weight="normal" >50%</text>
<rect x="640.3" y="407.3" width="15.3" height="2.8" fill="#e6221c" stroke="none" stroke-width="1" />
<text x="679.6" y="412.1" font-size="9.4" text-anchor="end" fill="#333" font-weight="normal" >80%</text>
<rect x="640.3" y="424.2" width="15.3" height="2.8" fill="#3fb4d2" stroke="none" stroke-width="1" />
<text x="681.4" y="429.0" font-size="9.4" text-anchor="end" fill="#333" font-weight="normal" >100%</text>
<line x1="789.7" y1="339.8" x2="789.7" y2="465.3" stroke="#b4b4b4" stroke-width="1" stroke-dasharray="4 3"/>
<line x1="826.4" y1="339.8" x2="826.4" y2="465.3" stroke="#b4b4b4" stroke-width="1" stroke-dasharray="4 3"/>
<line x1="862.9" y1="339.8" x2="862.9" y2="465.3" stroke="#b4b4b4" stroke-width="1" stroke-dasharray="4 3"/>
<line x1="899.4" y1="339.8" x2="899.4" y2="465.3" stroke="#b4b4b4" stroke-width="1" stroke-dasharray="4 3"/>
<line x1="936.1" y1="339.8" x2="936.1" y2="465.3" stroke="#b4b4b4" stroke-width="1" stroke-dasharray="4 3"/>
<line x1="972.8" y1="339.8" x2="972.8" y2="465.3" stroke="#b4b4b4" stroke-width="1" stroke-dasharray="4 3"/>
<line x1="754.2" y1="339.8" x2="972.8" y2="339.8" stroke="#b4b4b4" stroke-width="1" stroke-dasharray="4 3"/>
<line x1="754.2" y1="372.9" x2="972.8" y2="372.9" stroke="#b4b4b4" stroke-width="1" stroke-dasharray="4 3"/>
<line x1="754.2" y1="405.5" x2="972.8" y2="405.5" stroke="#b4b4b4" stroke-width="1" stroke-dasharray="4 3"/>
<line x1="754.2" y1="437.6" x2="972.8" y2="437.6" stroke="#b4b4b4" stroke-width="1" stroke-dasharray="4 3"/>
<path d="M754.2 339.8 L972.9 353.4" fill="none" stroke="#3a3a3a" stroke-width="1.6" stroke-linejoin="round" stroke-linecap="round" />
<path d="M754.2 339.8 L972.9 366.8" fill="none" stroke="#a8478f" stroke-width="1.6" stroke-linejoin="round" stroke-linecap="round" />
<path d="M754.2 339.8 L972.9 377.2" fill="none" stroke="#ffe100" stroke-width="2.1" stroke-linejoin="round" stroke-linecap="round" />
<path d="M754.2 339.8 L936.1 395.6" fill="none" stroke="#3fb4d2" stroke-width="1.7" stroke-linejoin="round" stroke-linecap="round" />
<path d="M754.2 339.8 L899.4 401.0" fill="none" stroke="#e6141c" stroke-width="2.0" stroke-linejoin="round" stroke-linecap="round" />
<path d="M754.2 326.0 V465.3 H1013.0" fill="none" stroke="#3c3c3c" stroke-width="1.6"/>
<path d="M754.2 320.1 l-3.9 6.4 h7.8 z" fill="#111"/>
<path d="M1019.4 465.3 l-7.6 -3.4 v6.8 z" fill="#111"/>
<text x="748.0" y="345.1" font-size="9.0" text-anchor="end" fill="#222" font-weight="normal" >100</text>
<text x="748.0" y="376.4" font-size="9.0" text-anchor="end" fill="#222" font-weight="normal" >90</text>
<text x="748.0" y="408.8" font-size="9.0" text-anchor="end" fill="#222" font-weight="normal" >80</text>
<text x="748.0" y="441.5" font-size="9.0" text-anchor="end" fill="#222" font-weight="normal" >70</text>
<text x="748.0" y="469.2" font-size="9.0" text-anchor="end" fill="#222" font-weight="normal" >60</text>
<text transform="translate(725.4 389.4) rotate(-90)" x="0" y="3.5" font-size="9.8" text-anchor="middle" fill="#222" font-weight="normal" textLength="105.3" lengthAdjust="spacingAndGlyphs" >Remaining Capacity (%)</text>
<text x="756.4" y="478.3" font-size="9.6" text-anchor="middle" fill="#222" font-weight="normal" >0</text>
<text x="791.2" y="478.3" font-size="9.6" text-anchor="middle" fill="#222" font-weight="normal" >2</text>
<text x="827.4" y="478.3" font-size="9.6" text-anchor="middle" fill="#222" font-weight="normal" >4</text>
<text x="864.0" y="478.3" font-size="9.6" text-anchor="middle" fill="#222" font-weight="normal" >6</text>
<text x="900.5" y="478.3" font-size="9.6" text-anchor="middle" fill="#222" font-weight="normal" >8</text>
<text x="937.6" y="478.3" font-size="9.6" text-anchor="middle" fill="#222" font-weight="normal" >10</text>
<text x="974.2" y="478.3" font-size="9.6" text-anchor="middle" fill="#222" font-weight="normal" >12</text>
<text x="888.6" y="496.3" font-size="10.2" text-anchor="middle" fill="#222" font-weight="normal" textLength="101.6" lengthAdjust="spacingAndGlyphs" >Storage Time(Months)</text>
<rect x="977.0" y="349.9" width="48.6" height="86.6" fill="#ffffff" stroke="#666" stroke-width="1" />
<rect x="983.2" y="358.1" width="15.6" height="2.9" fill="#3a3a3a" stroke="none" stroke-width="1" />
<text x="1003.8" y="362.9" font-size="9.4" text-anchor="start" fill="#222" font-weight="normal" >10<tspan font-size="8.4">℃</tspan></text>
<rect x="983.2" y="374.9" width="15.6" height="2.9" fill="#a8478f" stroke="none" stroke-width="1" />
<text x="1003.8" y="379.7" font-size="9.4" text-anchor="start" fill="#222" font-weight="normal" >25<tspan font-size="8.4">℃</tspan></text>
<rect x="983.2" y="390.9" width="15.6" height="2.9" fill="#ffe100" stroke="none" stroke-width="1" />
<text x="1003.8" y="395.8" font-size="9.4" text-anchor="start" fill="#222" font-weight="normal" >30<tspan font-size="8.4">℃</tspan></text>
<rect x="983.2" y="407.6" width="15.6" height="2.9" fill="#3fb4d2" stroke="none" stroke-width="1" />
<text x="1003.8" y="412.4" font-size="9.4" text-anchor="start" fill="#222" font-weight="normal" >40<tspan font-size="8.4">℃</tspan></text>
<rect x="983.2" y="423.9" width="15.6" height="2.9" fill="#e6141c" stroke="none" stroke-width="1" />
<text x="1003.8" y="428.8" font-size="9.4" text-anchor="start" fill="#222" font-weight="normal" >50<tspan font-size="8.4">℃</tspan></text>
</svg>
</body></html>
